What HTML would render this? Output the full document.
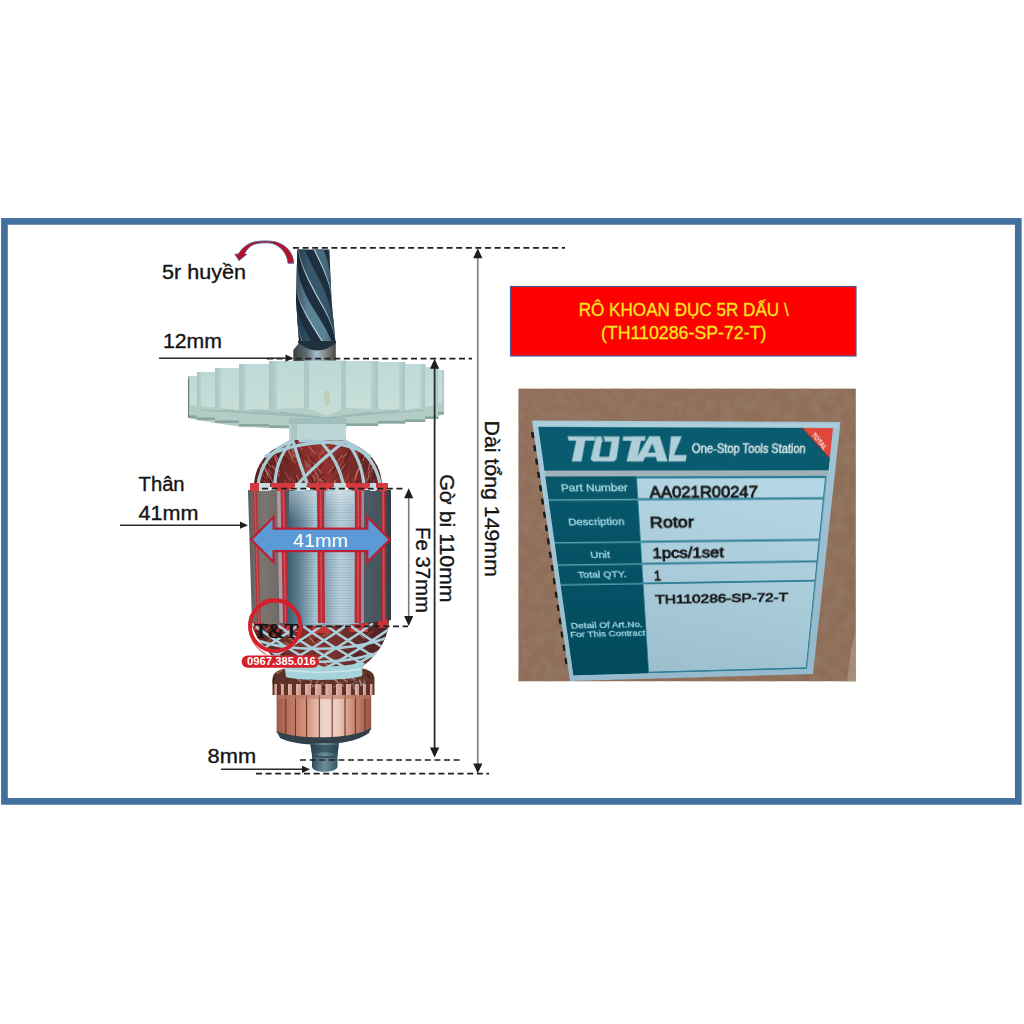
<!DOCTYPE html>
<html><head><meta charset="utf-8">
<style>
html,body{margin:0;padding:0;background:#fff;}
body{width:1024px;height:1024px;position:relative;overflow:hidden;font-family:"Liberation Sans",sans-serif;}
svg{position:absolute;left:0;top:0;font-family:"Liberation Sans",sans-serif;}
#label{position:absolute;left:0;top:0;width:300px;height:260px;transform-origin:0 0;
 transform:matrix3d(1.1441754,0.063162239,0,0.00013782521,0.74734288,1.7201858,0,0.0010547176,0,0,1,0,532,420.5,0,1);}
</style></head>
<body>
<svg width="1024" height="1024" viewBox="0 0 1024 1024">
<defs>
 <linearGradient id="card" x1="0" y1="0" x2="1" y2="1"><stop offset="0" stop-color="#916f5a"/><stop offset="1" stop-color="#8e6d58"/></linearGradient>
 <linearGradient id="collar" x1="0" x2="1"><stop offset="0" stop-color="#3c403f"/><stop offset="0.3" stop-color="#5d6a70"/><stop offset="0.55" stop-color="#a4bfcc"/><stop offset="0.8" stop-color="#7d7f7c"/><stop offset="1" stop-color="#4a4844"/></linearGradient>
 <linearGradient id="gearG" x1="0" x2="0" y1="0" y2="1"><stop offset="0" stop-color="#bcd8d6"/><stop offset="0.6" stop-color="#c2dcd6"/><stop offset="1" stop-color="#c8ded6"/></linearGradient>
 <linearGradient id="dome" x1="0" y1="0" x2="1" y2="0"><stop offset="0" stop-color="#521e1c"/><stop offset="0.55" stop-color="#943430"/><stop offset="1" stop-color="#582020"/></linearGradient>
 <linearGradient id="dome2" x1="0" y1="0" x2="1" y2="0"><stop offset="0" stop-color="#5a2420"/><stop offset="0.5" stop-color="#84362e"/><stop offset="1" stop-color="#4a2024"/></linearGradient>
 <linearGradient id="stackG" gradientUnits="userSpaceOnUse" x1="248" y1="0" x2="391" y2="0">
   <stop offset="0" stop-color="#625a54"/><stop offset="0.035" stop-color="#6e6660"/><stop offset="0.1" stop-color="#7f7771"/><stop offset="0.2" stop-color="#746e68"/>
   <stop offset="0.266" stop-color="#3a5664"/><stop offset="0.364" stop-color="#60869a"/><stop offset="0.476" stop-color="#adcad7"/>
   <stop offset="0.538" stop-color="#8aaabb"/><stop offset="0.643" stop-color="#bcd5e0"/><stop offset="0.748" stop-color="#a6c1cf"/>
   <stop offset="0.811" stop-color="#4e5a64"/><stop offset="0.937" stop-color="#46525a"/><stop offset="1" stop-color="#31373b"/></linearGradient>
 <pattern id="lam" width="4" height="2.6" patternUnits="userSpaceOnUse"><rect width="4" height="1" fill="#55606a"/></pattern>
 <linearGradient id="copper" x1="0" x2="1"><stop offset="0" stop-color="#a05a48"/><stop offset="0.18" stop-color="#c07a66"/><stop offset="0.35" stop-color="#d89c88"/><stop offset="0.5" stop-color="#f0d6cb"/><stop offset="0.65" stop-color="#eccabc"/><stop offset="0.82" stop-color="#c88672"/><stop offset="1" stop-color="#985646"/></linearGradient>
 <linearGradient id="shaft" x1="0" x2="1"><stop offset="0" stop-color="#2c4450"/><stop offset="0.5" stop-color="#6a909c"/><stop offset="1" stop-color="#34505a"/></linearGradient>
 <linearGradient id="tshL" x1="0" x2="1"><stop offset="0" stop-color="#a2c2c0"/><stop offset="1" stop-color="#b4d0ce"/></linearGradient>
 <linearGradient id="tshR" x1="1" x2="0"><stop offset="0" stop-color="#a2c2c0"/><stop offset="1" stop-color="#b4d0ce"/></linearGradient>
 <linearGradient id="drillShade" x1="0" x2="1"><stop offset="0" stop-color="#0e1820" stop-opacity="0.45"/><stop offset="0.3" stop-color="#0e1820" stop-opacity="0"/><stop offset="0.75" stop-color="#0e1820" stop-opacity="0"/><stop offset="1" stop-color="#0e1820" stop-opacity="0.35"/></linearGradient>
 <linearGradient id="gearTint" gradientUnits="userSpaceOnUse" x1="188" x2="443.5" y1="0" y2="0"><stop offset="0" stop-color="#c0dcd8" stop-opacity="0.1"/><stop offset="0.45" stop-color="#ffffff" stop-opacity="0"/><stop offset="1" stop-color="#c8e6e6" stop-opacity="0.12"/></linearGradient>
 <linearGradient id="hiG" x1="0" x2="0" y1="0" y2="1"><stop offset="0" stop-color="#e8f2f6" stop-opacity="0.45"/><stop offset="1" stop-color="#e8f2f6" stop-opacity="0"/></linearGradient>
</defs>
<rect x="4.45" y="221.4" width="1013.85" height="580" fill="none" stroke="#41709f" stroke-width="6.7"/>
<rect x="510.5" y="286.5" width="345.5" height="69.5" fill="#ff0000" stroke="#4d5a96" stroke-width="1.2"/>
<text x="683.7" y="316.4" text-anchor="middle" font-size="17.5" fill="#f5e51c" stroke="#f5e51c" stroke-width="0.3" textLength="210" lengthAdjust="spacingAndGlyphs">RÔ KHOAN ĐỤC 5R DẤU \</text>
<text x="683.7" y="339.2" text-anchor="middle" font-size="17.5" fill="#f5e51c" stroke="#f5e51c" stroke-width="0.3" textLength="165.5" lengthAdjust="spacingAndGlyphs">(TH110286-SP-72-T)</text>
<rect x="518.5" y="388.7" width="337.3" height="292.5" fill="url(#card)"/>
<filter id="noise" x="0" y="0" width="1" height="1"><feTurbulence type="fractalNoise" baseFrequency="0.09" numOctaves="3" seed="3"/><feColorMatrix type="matrix" values="0 0 0 0 0.33  0 0 0 0 0.25  0 0 0 0 0.17  0 0 0 -1.6 1.05"/></filter>
<rect x="518.5" y="388.7" width="337.3" height="292.5" filter="url(#noise)" opacity="0.5"/>
<path d="M851 650 L855.8 630 L855.8 681.2 L847 681.2 Z" fill="#b09a84" opacity="0.7"/>
<line x1="532.5" y1="432.0" x2="533.4" y2="438.0" stroke="#1c1c1c" stroke-width="3"/>
<line x1="534.5" y1="445.3" x2="535.4" y2="451.3" stroke="#1c1c1c" stroke-width="3"/>
<line x1="536.4" y1="458.6" x2="537.3" y2="464.6" stroke="#1c1c1c" stroke-width="3"/>
<line x1="538.4" y1="471.9" x2="539.3" y2="477.9" stroke="#1c1c1c" stroke-width="3"/>
<line x1="540.3" y1="485.2" x2="541.2" y2="491.2" stroke="#1c1c1c" stroke-width="3"/>
<line x1="542.3" y1="498.5" x2="543.2" y2="504.5" stroke="#1c1c1c" stroke-width="3"/>
<line x1="544.3" y1="511.8" x2="545.2" y2="517.8" stroke="#1c1c1c" stroke-width="3"/>
<line x1="546.2" y1="525.1" x2="547.1" y2="531.1" stroke="#1c1c1c" stroke-width="3"/>
<line x1="548.2" y1="538.4" x2="549.1" y2="544.4" stroke="#1c1c1c" stroke-width="3"/>
<line x1="550.2" y1="551.7" x2="551.1" y2="557.7" stroke="#1c1c1c" stroke-width="3"/>
<line x1="552.1" y1="565.0" x2="553.0" y2="571.0" stroke="#1c1c1c" stroke-width="3"/>
<line x1="554.1" y1="578.3" x2="555.0" y2="584.3" stroke="#1c1c1c" stroke-width="3"/>
<line x1="556.0" y1="591.6" x2="556.9" y2="597.6" stroke="#1c1c1c" stroke-width="3"/>
<line x1="558.0" y1="604.9" x2="558.9" y2="610.9" stroke="#1c1c1c" stroke-width="3"/>
<line x1="560.0" y1="618.2" x2="560.9" y2="624.2" stroke="#1c1c1c" stroke-width="3"/>
<line x1="561.9" y1="631.5" x2="562.8" y2="637.5" stroke="#1c1c1c" stroke-width="3"/>
<line x1="563.9" y1="644.8" x2="564.8" y2="650.8" stroke="#1c1c1c" stroke-width="3"/>
<line x1="565.9" y1="658.1" x2="566.8" y2="664.1" stroke="#1c1c1c" stroke-width="3"/>
<g font-size="20" fill="#141414" stroke="#141414" stroke-width="0.35">
<text x="162" y="278.8" textLength="84" lengthAdjust="spacingAndGlyphs">5r huyền</text>
<text x="163" y="348" textLength="59" lengthAdjust="spacingAndGlyphs">12mm</text>
<text x="138.6" y="491" textLength="46" lengthAdjust="spacingAndGlyphs">Thân</text>
<text x="138.6" y="519.8" textLength="60" lengthAdjust="spacingAndGlyphs">41mm</text>
<text x="207.6" y="763" textLength="48.5" lengthAdjust="spacingAndGlyphs">8mm</text>
<text transform="translate(439.8 474.3) rotate(90)" textLength="128.3" lengthAdjust="spacingAndGlyphs">Gờ bi 110mm</text>
<text transform="translate(416 527) rotate(90)" textLength="86" lengthAdjust="spacingAndGlyphs">Fe 37mm</text>
<text transform="translate(484.6 420.5) rotate(90)" textLength="156.5" lengthAdjust="spacingAndGlyphs">Dài tổng 149mm</text>
</g>
<polygon points="297.3,249.5 297.3,251.0 297.2,252.5 297.2,254.0 297.1,255.5 297.1,257.0 297.1,258.5 297.0,260.0 297.0,261.5 297.0,263.0 296.9,264.5 296.9,266.0 296.8,267.5 296.8,269.0 296.8,270.5 296.7,272.0 296.7,273.5 296.6,275.0 296.6,276.5 296.6,278.0 296.5,279.5 296.5,281.0 296.5,282.5 296.4,284.0 296.4,285.5 296.3,287.0 296.3,288.5 296.3,290.0 296.2,291.5 296.2,293.0 296.1,294.5 296.1,296.0 296.1,297.5 296.0,299.0 296.0,300.5 296.1,302.0 296.2,303.5 296.3,305.0 296.5,306.5 296.6,308.0 296.7,309.5 296.8,311.0 296.9,312.5 297.0,314.0 297.1,315.5 297.2,317.0 297.3,318.5 297.4,320.0 297.5,321.5 297.6,323.0 297.7,324.5 297.8,326.0 297.9,327.5 298.0,329.0 298.1,330.5 298.2,332.0 298.3,333.5 298.4,335.0 298.5,336.5 298.7,338.0 298.8,339.5 298.9,341.0 299.0,342.5 299.0,343.5 335.5,343.5 335.5,342.5 335.3,341.0 335.2,339.5 335.0,338.0 334.9,336.5 334.8,335.0 334.6,333.5 334.5,332.0 334.3,330.5 334.2,329.0 334.1,327.5 333.9,326.0 333.8,324.5 333.6,323.0 333.5,321.5 333.4,320.0 333.2,318.5 333.1,317.0 332.9,315.5 332.8,314.0 332.7,312.5 332.5,311.0 332.4,309.5 332.2,308.0 332.1,306.5 332.0,305.0 331.8,303.5 331.7,302.0 331.5,300.5 331.5,299.0 331.4,297.5 331.3,296.0 331.3,294.5 331.2,293.0 331.1,291.5 331.1,290.0 331.0,288.5 330.9,287.0 330.9,285.5 330.8,284.0 330.7,282.5 330.7,281.0 330.6,279.5 330.5,278.0 330.5,276.5 330.4,275.0 330.3,273.5 330.3,272.0 330.2,270.5 330.1,269.0 330.1,267.5 330.0,266.0 330.0,264.5 329.9,263.0 329.8,261.5 329.8,260.0 329.7,258.5 329.6,257.0 329.6,255.5 329.5,254.0 329.4,252.5 329.4,251.0 329.3,249.5" fill="#1e3040"/>
<polygon points="313.3,249.5 314.0,251.0 314.8,252.5 315.5,254.0 316.2,255.5 317.0,257.0 317.7,258.5 318.5,260.0 319.2,261.5 319.9,263.0 320.6,264.5 321.3,266.0 322.0,267.5 322.7,269.0 323.3,270.5 324.0,272.0 324.6,273.5 325.2,275.0 325.8,276.5 326.3,278.0 326.9,279.5 327.4,281.0 327.9,282.5 328.4,284.0 328.8,285.5 329.2,287.0 329.6,288.5 330.0,290.0 330.3,291.5 330.6,293.0 330.8,294.5 331.0,296.0 331.2,297.5 331.4,299.0 331.5,300.5 331.5,300.5 331.5,299.0 331.4,297.5 331.3,296.0 331.3,294.5 331.2,293.0 331.1,291.5 331.1,290.0 331.0,288.5 330.9,287.0 330.9,285.5 330.8,284.0 330.7,282.5 330.7,281.0 330.6,279.5 330.5,278.0 330.4,276.5 330.3,275.0 330.1,273.5 329.9,272.0 329.7,270.5 329.4,269.0 329.1,267.5 328.8,266.0 328.4,264.5 328.1,263.0 327.6,261.5 327.2,260.0 326.7,258.5 326.3,257.0 325.7,255.5 325.2,254.0 324.7,252.5 324.1,251.0 323.5,249.5" fill="#47697d" opacity="1"/>
<polygon points="313.6,249.5 314.4,251.0 315.1,252.5 315.8,254.0 316.6,255.5 317.3,257.0 318.0,258.5 318.8,260.0 319.5,261.5 320.2,263.0 320.9,264.5 321.6,266.0 322.3,267.5 322.9,269.0 323.6,270.5 324.2,272.0 324.8,273.5 325.4,275.0 326.0,276.5 326.6,278.0 327.1,279.5 327.6,281.0 328.1,282.5 328.5,284.0 329.0,285.5 329.4,287.0 329.7,288.5 330.1,290.0 330.4,291.5 330.7,293.0 330.9,294.5 331.1,296.0 331.3,297.5 331.4,299.0 331.5,300.5 331.5,300.5 331.5,299.0 331.4,297.5 331.3,296.0 331.1,294.5 330.9,293.0 330.7,291.5 330.4,290.0 330.2,288.5 329.8,287.0 329.5,285.5 329.1,284.0 328.7,282.5 328.3,281.0 327.8,279.5 327.3,278.0 326.8,276.5 326.2,275.0 325.7,273.5 325.1,272.0 324.5,270.5 323.9,269.0 323.2,267.5 322.6,266.0 321.9,264.5 321.2,263.0 320.5,261.5 319.8,260.0 319.1,258.5 318.4,257.0 317.7,255.5 316.9,254.0 316.2,252.5 315.5,251.0 314.7,249.5" fill="#cfe0e8" opacity="0.9"/>
<polygon points="298.1,249.5 298.3,251.0 298.5,252.5 298.8,254.0 299.1,255.5 299.4,257.0 299.8,258.5 300.2,260.0 300.6,261.5 301.0,263.0 301.5,264.5 302.0,266.0 302.5,267.5 303.1,269.0 303.7,270.5 304.3,272.0 304.9,273.5 305.5,275.0 306.2,276.5 306.9,278.0 307.6,279.5 308.3,281.0 309.0,282.5 309.8,284.0 310.5,285.5 311.3,287.0 312.1,288.5 312.9,290.0 313.7,291.5 314.5,293.0 315.3,294.5 316.1,296.0 316.9,297.5 317.7,299.0 318.5,300.5 319.4,302.0 320.3,303.5 321.2,305.0 322.0,306.5 322.9,308.0 323.7,309.5 324.5,311.0 325.3,312.5 326.1,314.0 326.8,315.5 327.5,317.0 328.2,318.5 328.9,320.0 329.6,321.5 330.2,323.0 330.8,324.5 331.4,326.0 331.9,327.5 332.4,329.0 332.9,330.5 333.3,332.0 333.7,333.5 334.1,335.0 334.4,336.5 334.7,338.0 335.0,339.5 335.2,341.0 335.4,342.5 335.5,343.5 335.5,343.5 335.5,342.5 335.3,341.0 335.2,339.5 335.0,338.0 334.9,336.5 334.8,335.0 334.6,333.5 334.5,332.0 334.3,330.5 334.2,329.0 334.1,327.5 333.9,326.0 333.8,324.5 333.6,323.0 333.5,321.5 333.4,320.0 333.2,318.5 333.0,317.0 332.7,315.5 332.4,314.0 332.1,312.5 331.7,311.0 331.4,309.5 330.9,308.0 330.5,306.5 330.0,305.0 329.5,303.5 328.9,302.0 328.3,300.5 327.8,299.0 327.2,297.5 326.7,296.0 326.1,294.5 325.4,293.0 324.8,291.5 324.1,290.0 323.5,288.5 322.8,287.0 322.1,285.5 321.3,284.0 320.6,282.5 319.9,281.0 319.1,279.5 318.4,278.0 317.6,276.5 316.8,275.0 316.1,273.5 315.3,272.0 314.5,270.5 313.8,269.0 313.0,267.5 312.3,266.0 311.5,264.5 310.8,263.0 310.0,261.5 309.3,260.0 308.6,258.5 307.9,257.0 307.3,255.5 306.6,254.0 306.0,252.5 305.3,251.0 304.7,249.5" fill="#37586c" opacity="1"/>
<polygon points="298.2,249.5 298.4,251.0 298.6,252.5 298.9,254.0 299.2,255.5 299.6,257.0 299.9,258.5 300.3,260.0 300.8,261.5 301.2,263.0 301.7,264.5 302.2,266.0 302.8,267.5 303.3,269.0 303.9,270.5 304.5,272.0 305.2,273.5 305.8,275.0 306.5,276.5 307.2,278.0 307.9,279.5 308.6,281.0 309.4,282.5 310.1,284.0 310.9,285.5 311.7,287.0 312.4,288.5 313.2,290.0 314.0,291.5 314.8,293.0 315.6,294.5 316.4,296.0 317.2,297.5 318.0,299.0 318.9,300.5 319.7,302.0 320.6,303.5 321.5,305.0 322.3,306.5 323.2,308.0 324.0,309.5 324.8,311.0 325.6,312.5 326.3,314.0 327.1,315.5 327.8,317.0 328.5,318.5 329.2,320.0 329.8,321.5 330.4,323.0 331.0,324.5 331.5,326.0 332.1,327.5 332.6,329.0 333.0,330.5 333.4,332.0 333.8,333.5 334.2,335.0 334.5,336.5 334.8,338.0 335.1,339.5 335.3,341.0 335.4,342.5 335.5,342.5 335.3,341.0 335.2,339.5 335.0,338.0 334.7,336.5 334.5,335.0 334.2,333.5 333.8,332.0 333.5,330.5 333.0,329.0 332.6,327.5 332.1,326.0 331.6,324.5 331.1,323.0 330.5,321.5 329.9,320.0 329.3,318.5 328.7,317.0 328.0,315.5 327.3,314.0 326.5,312.5 325.8,311.0 325.0,309.5 324.2,308.0 323.4,306.5 322.6,305.0 321.8,303.5 320.9,302.0 320.0,300.5 319.2,299.0 318.4,297.5 317.6,296.0 316.8,294.5 316.0,293.0 315.2,291.5 314.4,290.0 313.7,288.5 312.9,287.0 312.1,285.5 311.3,284.0 310.5,282.5 309.8,281.0 309.0,279.5 308.3,278.0 307.6,276.5 306.9,275.0 306.2,273.5 305.6,272.0 304.9,270.5 304.3,269.0 303.7,267.5 303.1,266.0 302.6,264.5 302.0,263.0 301.5,261.5 301.1,260.0 300.6,258.5 300.2,257.0 299.8,255.5 299.5,254.0 299.1,252.5 298.9,251.0 298.6,249.5" fill="#cfe0e8" opacity="0.9"/>
<polygon points="297.1,258.5 297.0,260.0 297.0,261.5 297.0,263.0 296.9,264.5 296.9,266.0 296.8,267.5 296.8,269.0 296.8,270.5 296.7,272.0 296.7,273.5 296.6,275.0 296.6,276.5 296.6,278.0 296.5,279.5 296.5,281.0 296.5,282.5 296.5,284.0 296.5,285.5 296.6,287.0 296.7,288.5 296.9,290.0 297.1,291.5 297.3,293.0 297.6,294.5 297.8,296.0 298.2,297.5 298.5,299.0 299.0,300.5 299.5,302.0 300.1,303.5 300.7,305.0 301.4,306.5 302.1,308.0 302.8,309.5 303.5,311.0 304.2,312.5 305.0,314.0 305.8,315.5 306.6,317.0 307.5,318.5 308.3,320.0 309.2,321.5 310.1,323.0 310.9,324.5 311.8,326.0 312.8,327.5 313.7,329.0 314.6,330.5 315.5,332.0 316.5,333.5 317.4,335.0 318.4,336.5 319.3,338.0 320.2,339.5 321.1,341.0 322.1,342.5 322.7,343.5 332.6,343.5 332.2,342.5 331.5,341.0 330.9,339.5 330.2,338.0 329.5,336.5 328.8,335.0 328.0,333.5 327.3,332.0 326.5,330.5 325.7,329.0 324.8,327.5 324.0,326.0 323.1,324.5 322.3,323.0 321.4,321.5 320.5,320.0 319.6,318.5 318.7,317.0 317.7,315.5 316.8,314.0 315.9,312.5 315.0,311.0 314.0,309.5 313.1,308.0 312.2,306.5 311.3,305.0 310.4,303.5 309.5,302.0 308.6,300.5 307.8,299.0 307.1,297.5 306.4,296.0 305.7,294.5 305.0,293.0 304.3,291.5 303.7,290.0 303.1,288.5 302.5,287.0 301.9,285.5 301.4,284.0 300.9,282.5 300.4,281.0 300.0,279.5 299.5,278.0 299.2,276.5 298.8,275.0 298.5,273.5 298.2,272.0 297.9,270.5 297.7,269.0 297.5,267.5 297.4,266.0 297.2,264.5 297.1,263.0 297.1,261.5 297.1,260.0 297.1,258.5" fill="#5c8296" opacity="1"/>
<polygon points="296.6,278.0 296.5,279.5 296.5,281.0 296.5,282.5 296.5,284.0 296.6,285.5 296.7,287.0 296.8,288.5 297.0,290.0 297.2,291.5 297.4,293.0 297.7,294.5 298.0,296.0 298.3,297.5 298.7,299.0 299.2,300.5 299.7,302.0 300.4,303.5 301.0,305.0 301.6,306.5 302.3,308.0 303.0,309.5 303.8,311.0 304.5,312.5 305.3,314.0 306.1,315.5 306.9,317.0 307.8,318.5 308.6,320.0 309.5,321.5 310.4,323.0 311.3,324.5 312.2,326.0 313.1,327.5 314.0,329.0 315.0,330.5 315.9,332.0 316.8,333.5 317.8,335.0 318.7,336.5 319.6,338.0 320.6,339.5 321.5,341.0 322.4,342.5 323.0,343.5 324.2,343.5 323.6,342.5 322.7,341.0 321.8,339.5 320.9,338.0 320.0,336.5 319.0,335.0 318.1,333.5 317.2,332.0 316.2,330.5 315.3,329.0 314.4,327.5 313.4,326.0 312.5,324.5 311.6,323.0 310.7,321.5 309.8,320.0 308.9,318.5 308.1,317.0 307.2,315.5 306.4,314.0 305.6,312.5 304.8,311.0 304.0,309.5 303.3,308.0 302.6,306.5 301.9,305.0 301.2,303.5 300.5,302.0 299.9,300.5 299.4,299.0 299.0,297.5 298.6,296.0 298.2,294.5 297.9,293.0 297.6,291.5 297.4,290.0 297.1,288.5 297.0,287.0 296.8,285.5 296.7,284.0 296.6,282.5 296.6,281.0 296.5,279.5 296.6,278.0" fill="#cfe0e8" opacity="0.9"/>
<polygon points="296.0,300.5 296.1,302.0 296.2,303.5 296.3,305.0 296.5,306.5 296.6,308.0 296.7,309.5 296.8,311.0 296.9,312.5 297.0,314.0 297.1,315.5 297.2,317.0 297.3,318.5 297.4,320.0 297.5,321.5 297.6,323.0 297.7,324.5 297.9,326.0 298.1,327.5 298.3,329.0 298.6,330.5 298.9,332.0 299.2,333.5 299.6,335.0 300.0,336.5 300.5,338.0 300.9,339.5 301.4,341.0 302.0,342.5 302.4,343.5 312.5,343.5 311.9,342.5 311.0,341.0 310.1,339.5 309.2,338.0 308.4,336.5 307.6,335.0 306.8,333.5 306.0,332.0 305.2,330.5 304.5,329.0 303.7,327.5 303.0,326.0 302.4,324.5 301.7,323.0 301.1,321.5 300.6,320.0 300.0,318.5 299.5,317.0 299.0,315.5 298.5,314.0 298.1,312.5 297.7,311.0 297.4,309.5 297.1,308.0 296.8,306.5 296.6,305.0 296.3,303.5 296.2,302.0 296.0,300.5" fill="#305062" opacity="1"/>
<polygon points="297.4,320.0 297.5,321.5 297.6,323.0 297.7,324.5 297.9,326.0 298.1,327.5 298.4,329.0 298.7,330.5 299.0,332.0 299.3,333.5 299.7,335.0 300.2,336.5 300.6,338.0 301.1,339.5 301.6,341.0 302.2,342.5 302.6,343.5 303.4,343.5 302.9,342.5 302.3,341.0 301.8,339.5 301.2,338.0 300.7,336.5 300.2,335.0 299.8,333.5 299.4,332.0 299.0,330.5 298.7,329.0 298.4,327.5 298.1,326.0 297.9,324.5 297.7,323.0 297.5,321.5 297.4,320.0" fill="#cfe0e8" opacity="0.9"/>
<polygon points="328.5,249.5 328.8,251.0 329.0,252.5 329.2,254.0 329.4,255.5 329.6,257.0 329.7,258.5 299.0,342.5 299.0,343.5 299.1,343.5 299.0,342.5 329.7,258.5 329.6,257.0 329.6,255.5 329.5,254.0 329.4,252.5 329.4,251.0 329.3,249.5" fill="#4e7084" opacity="1"/>
<polygon points="328.6,249.5 328.9,251.0 329.1,252.5 329.3,254.0 329.5,255.5 329.6,257.0 329.7,258.5 329.7,258.5 329.6,257.0 329.5,255.5 329.4,254.0 329.3,252.5 329.1,251.0 328.9,249.5" fill="#cfe0e8" opacity="0.9"/>
<polygon points="297.3,249.5 297.3,251.0 297.2,252.5 297.2,254.0 297.1,255.5 297.1,257.0 297.1,258.5 297.0,260.0 297.0,261.5 297.0,263.0 296.9,264.5 296.9,266.0 296.8,267.5 296.8,269.0 296.8,270.5 296.7,272.0 296.7,273.5 296.6,275.0 296.6,276.5 296.6,278.0 296.5,279.5 296.5,281.0 296.5,282.5 296.4,284.0 296.4,285.5 296.3,287.0 296.3,288.5 296.3,290.0 296.2,291.5 296.2,293.0 296.1,294.5 296.1,296.0 296.1,297.5 296.0,299.0 296.0,300.5 296.1,302.0 296.2,303.5 296.3,305.0 296.5,306.5 296.6,308.0 296.7,309.5 296.8,311.0 296.9,312.5 297.0,314.0 297.1,315.5 297.2,317.0 297.3,318.5 297.4,320.0 297.5,321.5 297.6,323.0 297.7,324.5 297.8,326.0 297.9,327.5 298.0,329.0 298.1,330.5 298.2,332.0 298.3,333.5 298.4,335.0 298.5,336.5 298.7,338.0 298.8,339.5 298.9,341.0 299.0,342.5 299.0,343.5 335.5,343.5 335.5,342.5 335.3,341.0 335.2,339.5 335.0,338.0 334.9,336.5 334.8,335.0 334.6,333.5 334.5,332.0 334.3,330.5 334.2,329.0 334.1,327.5 333.9,326.0 333.8,324.5 333.6,323.0 333.5,321.5 333.4,320.0 333.2,318.5 333.1,317.0 332.9,315.5 332.8,314.0 332.7,312.5 332.5,311.0 332.4,309.5 332.2,308.0 332.1,306.5 332.0,305.0 331.8,303.5 331.7,302.0 331.5,300.5 331.5,299.0 331.4,297.5 331.3,296.0 331.3,294.5 331.2,293.0 331.1,291.5 331.1,290.0 331.0,288.5 330.9,287.0 330.9,285.5 330.8,284.0 330.7,282.5 330.7,281.0 330.6,279.5 330.5,278.0 330.5,276.5 330.4,275.0 330.3,273.5 330.3,272.0 330.2,270.5 330.1,269.0 330.1,267.5 330.0,266.0 330.0,264.5 329.9,263.0 329.8,261.5 329.8,260.0 329.7,258.5 329.6,257.0 329.6,255.5 329.5,254.0 329.4,252.5 329.4,251.0 329.3,249.5" fill="url(#drillShade)"/>
<path d="M293.3 361 L293.3 350 L299 343 L335.8 343 L335.8 361 Z" fill="url(#collar)"/>
<path d="M298 343 Q 318 358, 336 343 L 336 341 L 298 341 Z" fill="#20323e"/>
<path d="M238.5 254 C 242 248, 248 243, 256 241.6 C 262 240.6, 270 240.6, 276 242 C 286 245, 293 252, 293.8 263.2 L 287.9 263.2 C 287.5 254, 281 246, 272 243.3 C 266 242.5, 260 242.8, 255 244 C 250 245.5, 247 249, 244.5 254 L 246.6 254.4 L 239 260.6 L 234.9 254.2 Z" fill="#b8102a" stroke="#3f5f98" stroke-width="0.8" stroke-linejoin="round"/>
<rect x="188" y="376" width="9.6" height="42" fill="#b0cecc"/>
<rect x="197" y="372" width="18.6" height="48" fill="#b0cecc"/>
<rect x="215" y="368" width="24.6" height="55" fill="#b0cecc"/>
<rect x="239" y="364" width="30.6" height="62.5" fill="#b0cecc"/>
<rect x="269" y="361" width="35.6" height="67" fill="#b0cecc"/>
<rect x="304" y="360.5" width="42.6" height="68.5" fill="#b0cecc"/>
<rect x="346" y="361" width="32.6" height="65" fill="#b0cecc"/>
<rect x="378" y="362" width="27.6" height="61.5" fill="#b0cecc"/>
<rect x="405" y="364" width="20.6" height="58" fill="#b0cecc"/>
<rect x="425" y="367" width="13.6" height="52" fill="#b0cecc"/>
<rect x="438" y="370" width="6.1" height="44.5" fill="#b0cecc"/>
<rect x="190.0" y="376" width="7.0" height="30" fill="url(#gearG)"/>
<rect x="188" y="376" width="2.0" height="42" fill="url(#tshL)"/>
<rect x="201.0" y="372" width="14.0" height="36" fill="url(#gearG)"/>
<rect x="197" y="372" width="4.0" height="48" fill="url(#tshL)"/>
<rect x="220.3" y="368" width="18.7" height="43" fill="url(#gearG)"/>
<rect x="215" y="368" width="5.3" height="55" fill="url(#tshL)"/>
<rect x="245.6" y="364" width="23.4" height="50.5" fill="url(#gearG)"/>
<rect x="239" y="364" width="6.6" height="62.5" fill="url(#tshL)"/>
<rect x="276.7" y="361" width="27.3" height="55" fill="url(#gearG)"/>
<rect x="269" y="361" width="7.7" height="67" fill="url(#tshL)"/>
<rect x="346" y="361" width="25.0" height="53" fill="url(#gearG)"/>
<rect x="371.0" y="361" width="7.0" height="65" fill="url(#tshR)"/>
<rect x="378" y="362" width="21.1" height="49.5" fill="url(#gearG)"/>
<rect x="399.1" y="362" width="5.9" height="61.5" fill="url(#tshR)"/>
<rect x="405" y="364" width="15.6" height="46" fill="url(#gearG)"/>
<rect x="420.6" y="364" width="4.4" height="58" fill="url(#tshR)"/>
<rect x="425" y="367" width="10.1" height="40" fill="url(#gearG)"/>
<rect x="435.1" y="367" width="2.9" height="52" fill="url(#tshR)"/>
<rect x="438" y="370" width="4.3" height="32.5" fill="url(#gearG)"/>
<rect x="442.3" y="370" width="1.2" height="44.5" fill="url(#tshR)"/>
<rect x="188" y="376" width="9.6" height="42" fill="url(#gearTint)"/>
<rect x="197" y="372" width="18.6" height="48" fill="url(#gearTint)"/>
<rect x="215" y="368" width="24.6" height="55" fill="url(#gearTint)"/>
<rect x="239" y="364" width="30.6" height="62.5" fill="url(#gearTint)"/>
<rect x="269" y="361" width="35.6" height="67" fill="url(#gearTint)"/>
<rect x="304" y="360.5" width="42.6" height="68.5" fill="url(#gearTint)"/>
<rect x="346" y="361" width="32.6" height="65" fill="url(#gearTint)"/>
<rect x="378" y="362" width="27.6" height="61.5" fill="url(#gearTint)"/>
<rect x="405" y="364" width="20.6" height="58" fill="url(#gearTint)"/>
<rect x="425" y="367" width="13.6" height="52" fill="url(#gearTint)"/>
<rect x="438" y="370" width="6.1" height="44.5" fill="url(#gearTint)"/>
<path d="M304 361 L346 361 L346 407 L327.5 416 L304 407 Z" fill="url(#gearG)"/>
<path d="M304 361 L309 361 L309 408 L304 407 Z" fill="#a8c6c4" opacity="0.8"/>
<path d="M341 361 L346 361 L346 407 L341 409 Z" fill="#a8c6c4" opacity="0.8"/>
<ellipse cx="327" cy="398" rx="3" ry="8" fill="#bcccb0" opacity="0.8"/>
<path d="M188 405 L239 410 L304 408 L327.5 416 L346 408 L405 410 L443.5 404 L443.5 414.5 L425 419 L405 422 L378 423.5 L346 426 L304 429 L269 428 L239 426.5 L215 423 L197 420 L188 418 Z" fill="#b2ccc6"/>
<g stroke="#9cb8b2" stroke-width="1" fill="none">
<line x1="200" y1="410" x2="327.5" y2="418"/>
<line x1="222" y1="410" x2="327.5" y2="418"/>
<line x1="250" y1="410" x2="327.5" y2="418"/>
<line x1="280" y1="412" x2="327.5" y2="418"/>
<line x1="372" y1="412" x2="327.5" y2="418"/>
<line x1="400" y1="410" x2="327.5" y2="418"/>
<line x1="425" y1="410" x2="327.5" y2="418"/>
</g>
<rect x="188" y="415.4" width="9" height="2.6" fill="#86a29c" opacity="0.9"/>
<rect x="197" y="417.4" width="18" height="2.6" fill="#86a29c" opacity="0.9"/>
<rect x="215" y="420.4" width="24" height="2.6" fill="#86a29c" opacity="0.9"/>
<rect x="239" y="423.9" width="30" height="2.6" fill="#86a29c" opacity="0.9"/>
<rect x="269" y="425.4" width="35" height="2.6" fill="#86a29c" opacity="0.9"/>
<rect x="304" y="426.4" width="42" height="2.6" fill="#86a29c" opacity="0.9"/>
<rect x="346" y="423.4" width="32" height="2.6" fill="#86a29c" opacity="0.9"/>
<rect x="378" y="420.9" width="27" height="2.6" fill="#86a29c" opacity="0.9"/>
<rect x="405" y="419.4" width="20" height="2.6" fill="#86a29c" opacity="0.9"/>
<rect x="425" y="416.4" width="13" height="2.6" fill="#86a29c" opacity="0.9"/>
<rect x="438" y="411.9" width="5.5" height="2.6" fill="#86a29c" opacity="0.9"/>
<line x1="188.6" y1="378" x2="188.6" y2="417" stroke="#4a5a5a" stroke-width="1" opacity="0.7"/>
<rect x="289" y="418" width="57" height="23" fill="#bcd6d6"/>
<rect x="289" y="418" width="57" height="6" fill="#a0bebe"/>
<rect x="291" y="424" width="6" height="16" fill="#a4bebe" opacity="0.7"/>
<clipPath id="domeClip"><path d="M254 487 C 254 470, 262 455, 278 447 C 284 444, 288 441, 292 440 L 344 440 C 350 442, 356 445, 362 449 C 376 458, 382 472, 382 487 Z"/></clipPath>
<path d="M254 487 C 254 470, 262 455, 278 447 C 284 444, 288 441, 292 440 L 344 440 C 350 442, 356 445, 362 449 C 376 458, 382 472, 382 487 Z" fill="url(#dome)"/>
<g clip-path="url(#domeClip)">
<line x1="296.2" y1="450.3" x2="300.2" y2="455.6" stroke="#a84844" stroke-width="0.9" opacity="0.8"/>
<line x1="267.7" y1="468.5" x2="273.4" y2="473.6" stroke="#b85a58" stroke-width="0.9" opacity="0.8"/>
<line x1="309.8" y1="446.9" x2="312.2" y2="456.0" stroke="#a84844" stroke-width="0.9" opacity="0.8"/>
<line x1="271.4" y1="453.4" x2="279.5" y2="464.3" stroke="#a84844" stroke-width="0.9" opacity="0.8"/>
<line x1="328.6" y1="446.1" x2="321.5" y2="453.8" stroke="#d88a80" stroke-width="0.9" opacity="0.8"/>
<line x1="291.9" y1="450.1" x2="294.3" y2="458.2" stroke="#d88a80" stroke-width="0.9" opacity="0.8"/>
<line x1="268.8" y1="468.0" x2="271.0" y2="474.4" stroke="#b85a58" stroke-width="0.9" opacity="0.8"/>
<line x1="326.0" y1="470.0" x2="320.6" y2="478.7" stroke="#7a2828" stroke-width="0.9" opacity="0.8"/>
<line x1="313.7" y1="482.8" x2="317.2" y2="490.0" stroke="#d88a80" stroke-width="0.9" opacity="0.8"/>
<line x1="342.7" y1="454.3" x2="337.8" y2="463.2" stroke="#7a2828" stroke-width="0.9" opacity="0.8"/>
<line x1="346.5" y1="456.1" x2="345.0" y2="462.9" stroke="#3a1618" stroke-width="0.9" opacity="0.8"/>
<line x1="276.5" y1="458.4" x2="283.5" y2="464.5" stroke="#b85a58" stroke-width="0.9" opacity="0.8"/>
<line x1="350.8" y1="468.1" x2="348.4" y2="476.2" stroke="#7a2828" stroke-width="0.9" opacity="0.8"/>
<line x1="329.7" y1="468.4" x2="322.7" y2="479.0" stroke="#7a2828" stroke-width="0.9" opacity="0.8"/>
<line x1="314.8" y1="471.9" x2="317.6" y2="483.2" stroke="#a84844" stroke-width="0.9" opacity="0.8"/>
<line x1="379.1" y1="478.5" x2="373.3" y2="485.5" stroke="#7a2828" stroke-width="0.9" opacity="0.8"/>
<line x1="258.8" y1="463.4" x2="261.0" y2="470.0" stroke="#b85a58" stroke-width="0.9" opacity="0.8"/>
<line x1="283.1" y1="456.1" x2="289.1" y2="463.0" stroke="#3a1618" stroke-width="0.9" opacity="0.8"/>
<line x1="266.0" y1="462.9" x2="273.2" y2="473.8" stroke="#3a1618" stroke-width="0.9" opacity="0.8"/>
<line x1="363.1" y1="455.7" x2="358.1" y2="463.0" stroke="#3a1618" stroke-width="0.9" opacity="0.8"/>
<line x1="374.8" y1="450.3" x2="369.3" y2="455.9" stroke="#d88a80" stroke-width="0.9" opacity="0.8"/>
<line x1="257.5" y1="478.9" x2="260.2" y2="486.7" stroke="#d88a80" stroke-width="0.9" opacity="0.8"/>
<line x1="307.9" y1="459.5" x2="315.6" y2="470.8" stroke="#a84844" stroke-width="0.9" opacity="0.8"/>
<line x1="373.8" y1="471.5" x2="370.2" y2="480.5" stroke="#a84844" stroke-width="0.9" opacity="0.8"/>
<line x1="304.7" y1="460.8" x2="307.6" y2="471.4" stroke="#b85a58" stroke-width="0.9" opacity="0.8"/>
<line x1="279.6" y1="485.4" x2="283.0" y2="491.4" stroke="#a84844" stroke-width="0.9" opacity="0.8"/>
<line x1="262.5" y1="444.0" x2="264.6" y2="450.5" stroke="#7a2828" stroke-width="0.9" opacity="0.8"/>
<line x1="332.1" y1="447.0" x2="325.9" y2="453.5" stroke="#7a2828" stroke-width="0.9" opacity="0.8"/>
<line x1="374.5" y1="469.3" x2="370.8" y2="475.1" stroke="#3a1618" stroke-width="0.9" opacity="0.8"/>
<line x1="379.1" y1="463.6" x2="375.6" y2="469.2" stroke="#b85a58" stroke-width="0.9" opacity="0.8"/>
<line x1="349.0" y1="475.1" x2="342.8" y2="484.8" stroke="#a84844" stroke-width="0.9" opacity="0.8"/>
<line x1="258.9" y1="483.9" x2="262.7" y2="490.0" stroke="#a84844" stroke-width="0.9" opacity="0.8"/>
<line x1="369.4" y1="475.8" x2="362.2" y2="484.4" stroke="#b85a58" stroke-width="0.9" opacity="0.8"/>
<line x1="342.3" y1="455.0" x2="337.9" y2="460.8" stroke="#d88a80" stroke-width="0.9" opacity="0.8"/>
<line x1="322.0" y1="476.7" x2="317.2" y2="482.8" stroke="#d88a80" stroke-width="0.9" opacity="0.8"/>
<line x1="356.0" y1="478.4" x2="353.0" y2="485.6" stroke="#a84844" stroke-width="0.9" opacity="0.8"/>
<line x1="317.1" y1="474.7" x2="326.7" y2="482.4" stroke="#3a1618" stroke-width="0.9" opacity="0.8"/>
<line x1="288.1" y1="473.1" x2="295.5" y2="479.3" stroke="#7a2828" stroke-width="0.9" opacity="0.8"/>
<line x1="374.4" y1="459.3" x2="369.1" y2="465.1" stroke="#d88a80" stroke-width="0.9" opacity="0.8"/>
<line x1="297.9" y1="464.3" x2="306.3" y2="471.1" stroke="#b85a58" stroke-width="0.9" opacity="0.8"/>
<line x1="315.5" y1="471.4" x2="320.1" y2="476.3" stroke="#b85a58" stroke-width="0.9" opacity="0.8"/>
<line x1="368.8" y1="476.9" x2="365.2" y2="486.0" stroke="#d88a80" stroke-width="0.9" opacity="0.8"/>
<line x1="309.8" y1="470.7" x2="313.3" y2="483.8" stroke="#3a1618" stroke-width="0.9" opacity="0.8"/>
<line x1="313.4" y1="475.2" x2="315.3" y2="482.2" stroke="#d88a80" stroke-width="0.9" opacity="0.8"/>
<line x1="259.4" y1="468.8" x2="265.1" y2="478.5" stroke="#a84844" stroke-width="0.9" opacity="0.8"/>
<line x1="358.5" y1="485.2" x2="354.7" y2="493.1" stroke="#a84844" stroke-width="0.9" opacity="0.8"/>
<line x1="324.0" y1="444.9" x2="320.0" y2="456.0" stroke="#b85a58" stroke-width="0.9" opacity="0.8"/>
<line x1="321.3" y1="483.2" x2="314.0" y2="493.9" stroke="#d88a80" stroke-width="0.9" opacity="0.8"/>
<line x1="259.5" y1="452.9" x2="265.8" y2="463.3" stroke="#7a2828" stroke-width="0.9" opacity="0.8"/>
<line x1="288.2" y1="461.6" x2="292.0" y2="474.3" stroke="#7a2828" stroke-width="0.9" opacity="0.8"/>
<line x1="367.3" y1="471.8" x2="364.0" y2="481.4" stroke="#a84844" stroke-width="0.9" opacity="0.8"/>
<line x1="272.2" y1="450.4" x2="279.1" y2="461.4" stroke="#d88a80" stroke-width="0.9" opacity="0.8"/>
<line x1="331.5" y1="476.6" x2="326.4" y2="481.6" stroke="#a84844" stroke-width="0.9" opacity="0.8"/>
<line x1="345.9" y1="467.4" x2="339.6" y2="475.3" stroke="#a84844" stroke-width="0.9" opacity="0.8"/>
<line x1="315.8" y1="476.6" x2="320.5" y2="481.0" stroke="#d88a80" stroke-width="0.9" opacity="0.8"/>
<line x1="290.3" y1="476.4" x2="295.9" y2="485.4" stroke="#b85a58" stroke-width="0.9" opacity="0.8"/>
<line x1="311.0" y1="469.7" x2="316.3" y2="478.3" stroke="#7a2828" stroke-width="0.9" opacity="0.8"/>
<line x1="312.1" y1="466.4" x2="319.0" y2="478.0" stroke="#a84844" stroke-width="0.9" opacity="0.8"/>
<line x1="364.7" y1="483.6" x2="357.8" y2="491.5" stroke="#d88a80" stroke-width="0.9" opacity="0.8"/>
<line x1="360.2" y1="449.8" x2="353.2" y2="456.3" stroke="#b85a58" stroke-width="0.9" opacity="0.8"/>
<line x1="339.2" y1="462.0" x2="333.5" y2="468.1" stroke="#b85a58" stroke-width="0.9" opacity="0.8"/>
<line x1="367.2" y1="450.5" x2="362.9" y2="460.9" stroke="#d88a80" stroke-width="0.9" opacity="0.8"/>
<line x1="287.4" y1="449.8" x2="293.4" y2="460.1" stroke="#b85a58" stroke-width="0.9" opacity="0.8"/>
<line x1="305.4" y1="464.5" x2="315.2" y2="472.4" stroke="#d88a80" stroke-width="0.9" opacity="0.8"/>
<line x1="343.6" y1="485.8" x2="338.2" y2="493.4" stroke="#7a2828" stroke-width="0.9" opacity="0.8"/>
<line x1="295.5" y1="474.3" x2="297.7" y2="484.5" stroke="#3a1618" stroke-width="0.9" opacity="0.8"/>
<line x1="343.2" y1="460.1" x2="338.9" y2="467.3" stroke="#b85a58" stroke-width="0.9" opacity="0.8"/>
<line x1="270.0" y1="482.6" x2="274.6" y2="494.8" stroke="#b85a58" stroke-width="0.9" opacity="0.8"/>
<line x1="288.9" y1="445.7" x2="294.5" y2="451.7" stroke="#d88a80" stroke-width="0.9" opacity="0.8"/>
<line x1="357.7" y1="479.7" x2="352.0" y2="492.0" stroke="#3a1618" stroke-width="0.9" opacity="0.8"/>
<line x1="274.5" y1="482.6" x2="281.1" y2="492.2" stroke="#b85a58" stroke-width="0.9" opacity="0.8"/>
<line x1="290.6" y1="477.6" x2="294.8" y2="490.0" stroke="#7a2828" stroke-width="0.9" opacity="0.8"/>
<line x1="372.4" y1="470.6" x2="370.1" y2="476.9" stroke="#d88a80" stroke-width="0.9" opacity="0.8"/>
<line x1="264.3" y1="480.2" x2="268.6" y2="487.8" stroke="#a84844" stroke-width="0.9" opacity="0.8"/>
<line x1="307.8" y1="482.4" x2="311.6" y2="487.6" stroke="#d88a80" stroke-width="0.9" opacity="0.8"/>
<line x1="372.3" y1="484.7" x2="367.4" y2="490.3" stroke="#7a2828" stroke-width="0.9" opacity="0.8"/>
<line x1="334.0" y1="466.3" x2="327.4" y2="473.3" stroke="#d88a80" stroke-width="0.9" opacity="0.8"/>
<line x1="289.5" y1="477.8" x2="294.5" y2="481.7" stroke="#b85a58" stroke-width="0.9" opacity="0.8"/>
<line x1="346.9" y1="467.1" x2="340.1" y2="474.2" stroke="#3a1618" stroke-width="0.9" opacity="0.8"/>
<line x1="269.2" y1="478.4" x2="274.0" y2="487.1" stroke="#3a1618" stroke-width="0.9" opacity="0.8"/>
<line x1="376.3" y1="456.9" x2="371.0" y2="462.7" stroke="#d88a80" stroke-width="0.9" opacity="0.8"/>
<line x1="359.2" y1="473.7" x2="355.1" y2="482.0" stroke="#7a2828" stroke-width="0.9" opacity="0.8"/>
<line x1="377.8" y1="479.2" x2="369.2" y2="486.1" stroke="#7a2828" stroke-width="0.9" opacity="0.8"/>
<line x1="309.4" y1="446.3" x2="315.0" y2="453.4" stroke="#a84844" stroke-width="0.9" opacity="0.8"/>
<line x1="339.1" y1="455.8" x2="333.6" y2="462.1" stroke="#3a1618" stroke-width="0.9" opacity="0.8"/>
<line x1="279.0" y1="455.3" x2="280.8" y2="464.0" stroke="#7a2828" stroke-width="0.9" opacity="0.8"/>
<line x1="376.6" y1="467.0" x2="367.5" y2="477.2" stroke="#7a2828" stroke-width="0.9" opacity="0.8"/>
<line x1="283.0" y1="451.7" x2="285.8" y2="457.7" stroke="#7a2828" stroke-width="0.9" opacity="0.8"/>
<line x1="318.3" y1="452.4" x2="315.2" y2="457.6" stroke="#7a2828" stroke-width="0.9" opacity="0.8"/>
<line x1="357.3" y1="450.0" x2="353.0" y2="458.1" stroke="#7a2828" stroke-width="0.9" opacity="0.8"/>
<line x1="293.7" y1="453.8" x2="299.6" y2="462.2" stroke="#d88a80" stroke-width="0.9" opacity="0.8"/>
<line x1="337.5" y1="474.1" x2="335.0" y2="482.8" stroke="#7a2828" stroke-width="0.9" opacity="0.8"/>
<line x1="345.4" y1="464.8" x2="338.3" y2="473.1" stroke="#d88a80" stroke-width="0.9" opacity="0.8"/>
<line x1="261.4" y1="479.1" x2="269.5" y2="486.6" stroke="#a84844" stroke-width="0.9" opacity="0.8"/>
<line x1="273.3" y1="466.0" x2="279.9" y2="476.8" stroke="#b85a58" stroke-width="0.9" opacity="0.8"/>
<line x1="358.5" y1="468.5" x2="355.4" y2="479.6" stroke="#d88a80" stroke-width="0.9" opacity="0.8"/>
<line x1="266.6" y1="445.8" x2="274.8" y2="456.7" stroke="#3a1618" stroke-width="0.9" opacity="0.8"/>
<line x1="359.6" y1="467.5" x2="354.7" y2="477.3" stroke="#d88a80" stroke-width="0.9" opacity="0.8"/>
<line x1="316.7" y1="444.1" x2="324.9" y2="452.8" stroke="#a84844" stroke-width="0.9" opacity="0.8"/>
<line x1="367.3" y1="447.9" x2="361.3" y2="458.2" stroke="#3a1618" stroke-width="0.9" opacity="0.8"/>
<line x1="287.3" y1="447.1" x2="291.7" y2="458.1" stroke="#d88a80" stroke-width="0.9" opacity="0.8"/>
<line x1="284.6" y1="471.3" x2="291.0" y2="482.4" stroke="#b85a58" stroke-width="0.9" opacity="0.8"/>
<line x1="315.4" y1="472.7" x2="322.7" y2="480.8" stroke="#d88a80" stroke-width="0.9" opacity="0.8"/>
<line x1="265.6" y1="450.2" x2="270.0" y2="461.3" stroke="#7a2828" stroke-width="0.9" opacity="0.8"/>
<line x1="333.0" y1="449.6" x2="327.8" y2="458.0" stroke="#b85a58" stroke-width="0.9" opacity="0.8"/>
<line x1="341.8" y1="472.4" x2="335.3" y2="480.2" stroke="#3a1618" stroke-width="0.9" opacity="0.8"/>
<line x1="313.8" y1="476.2" x2="321.9" y2="482.7" stroke="#7a2828" stroke-width="0.9" opacity="0.8"/>
<line x1="377.3" y1="483.3" x2="369.8" y2="489.4" stroke="#a84844" stroke-width="0.9" opacity="0.8"/>
<line x1="376.0" y1="462.9" x2="371.0" y2="468.7" stroke="#d88a80" stroke-width="0.9" opacity="0.8"/>
<line x1="265.3" y1="447.8" x2="270.6" y2="453.9" stroke="#7a2828" stroke-width="0.9" opacity="0.8"/>
<line x1="272.4" y1="478.4" x2="279.4" y2="489.6" stroke="#7a2828" stroke-width="0.9" opacity="0.8"/>
<line x1="284.7" y1="481.7" x2="287.9" y2="487.0" stroke="#b85a58" stroke-width="0.9" opacity="0.8"/>
<line x1="373.8" y1="472.6" x2="367.0" y2="482.3" stroke="#3a1618" stroke-width="0.9" opacity="0.8"/>
<line x1="298.7" y1="457.3" x2="302.9" y2="461.5" stroke="#7a2828" stroke-width="0.9" opacity="0.8"/>
<line x1="360.0" y1="449.0" x2="357.1" y2="460.4" stroke="#7a2828" stroke-width="0.9" opacity="0.8"/>
<line x1="287.4" y1="446.7" x2="293.3" y2="458.3" stroke="#b85a58" stroke-width="0.9" opacity="0.8"/>
<line x1="300.7" y1="462.0" x2="303.2" y2="467.9" stroke="#b85a58" stroke-width="0.9" opacity="0.8"/>
<line x1="262.4" y1="471.8" x2="266.7" y2="477.6" stroke="#7a2828" stroke-width="0.9" opacity="0.8"/>
<line x1="310.1" y1="457.3" x2="318.4" y2="466.3" stroke="#3a1618" stroke-width="0.9" opacity="0.8"/>
<line x1="365.6" y1="478.1" x2="359.8" y2="490.0" stroke="#a84844" stroke-width="0.9" opacity="0.8"/>
<line x1="324.1" y1="474.2" x2="315.1" y2="481.9" stroke="#3a1618" stroke-width="0.9" opacity="0.8"/>
<line x1="332.2" y1="449.8" x2="329.4" y2="459.3" stroke="#a84844" stroke-width="0.9" opacity="0.8"/>
<line x1="271.8" y1="463.8" x2="275.4" y2="471.4" stroke="#7a2828" stroke-width="0.9" opacity="0.8"/>
<line x1="306.4" y1="454.0" x2="312.2" y2="463.8" stroke="#b85a58" stroke-width="0.9" opacity="0.8"/>
<line x1="276.7" y1="450.8" x2="281.2" y2="463.3" stroke="#3a1618" stroke-width="0.9" opacity="0.8"/>
<line x1="324.2" y1="463.0" x2="316.8" y2="472.5" stroke="#3a1618" stroke-width="0.9" opacity="0.8"/>
<line x1="273.3" y1="452.1" x2="275.6" y2="460.5" stroke="#b85a58" stroke-width="0.9" opacity="0.8"/>
<line x1="295.6" y1="459.5" x2="300.9" y2="465.0" stroke="#b85a58" stroke-width="0.9" opacity="0.8"/>
<line x1="349.0" y1="461.3" x2="343.1" y2="469.7" stroke="#3a1618" stroke-width="0.9" opacity="0.8"/>
<line x1="289.5" y1="475.6" x2="295.0" y2="484.6" stroke="#7a2828" stroke-width="0.9" opacity="0.8"/>
<line x1="271.6" y1="465.1" x2="279.3" y2="475.5" stroke="#d88a80" stroke-width="0.9" opacity="0.8"/>
<line x1="267.5" y1="481.7" x2="272.5" y2="491.6" stroke="#3a1618" stroke-width="0.9" opacity="0.8"/>
<line x1="374.3" y1="479.6" x2="372.5" y2="485.6" stroke="#b85a58" stroke-width="0.9" opacity="0.8"/>
<line x1="308.7" y1="476.1" x2="318.2" y2="486.0" stroke="#3a1618" stroke-width="0.9" opacity="0.8"/>
<line x1="256.0" y1="460.4" x2="265.5" y2="468.8" stroke="#3a1618" stroke-width="0.9" opacity="0.8"/>
<line x1="376.6" y1="454.4" x2="371.2" y2="459.4" stroke="#a84844" stroke-width="0.9" opacity="0.8"/>
<line x1="376.5" y1="448.6" x2="372.8" y2="459.6" stroke="#3a1618" stroke-width="0.9" opacity="0.8"/>
<line x1="266.5" y1="476.6" x2="267.9" y2="483.5" stroke="#a84844" stroke-width="0.9" opacity="0.8"/>
<line x1="370.1" y1="471.1" x2="365.6" y2="476.5" stroke="#7a2828" stroke-width="0.9" opacity="0.8"/>
<line x1="321.5" y1="462.4" x2="319.1" y2="468.7" stroke="#7a2828" stroke-width="0.9" opacity="0.8"/>
<line x1="321.0" y1="468.5" x2="316.5" y2="474.8" stroke="#a84844" stroke-width="0.9" opacity="0.8"/>
<line x1="256.1" y1="466.6" x2="262.6" y2="471.7" stroke="#7a2828" stroke-width="0.9" opacity="0.8"/>
<line x1="335.9" y1="481.1" x2="331.7" y2="487.8" stroke="#d88a80" stroke-width="0.9" opacity="0.8"/>
<line x1="259.6" y1="461.3" x2="263.6" y2="466.4" stroke="#d88a80" stroke-width="0.9" opacity="0.8"/>
<line x1="317.8" y1="472.3" x2="321.6" y2="479.4" stroke="#3a1618" stroke-width="0.9" opacity="0.8"/>
<line x1="370.7" y1="453.5" x2="364.0" y2="459.1" stroke="#3a1618" stroke-width="0.9" opacity="0.8"/>
<line x1="300.9" y1="460.6" x2="302.6" y2="468.8" stroke="#a84844" stroke-width="0.9" opacity="0.8"/>
<line x1="264.4" y1="464.8" x2="268.4" y2="476.3" stroke="#d88a80" stroke-width="0.9" opacity="0.8"/>
<line x1="284.6" y1="453.3" x2="290.2" y2="459.5" stroke="#a84844" stroke-width="0.9" opacity="0.8"/>
<line x1="317.5" y1="451.9" x2="320.7" y2="460.6" stroke="#b85a58" stroke-width="0.9" opacity="0.8"/>
<line x1="373.6" y1="450.1" x2="369.1" y2="456.4" stroke="#a84844" stroke-width="0.9" opacity="0.8"/>
<line x1="273.6" y1="446.2" x2="275.8" y2="455.1" stroke="#7a2828" stroke-width="0.9" opacity="0.8"/>
<line x1="346.9" y1="485.9" x2="344.7" y2="494.3" stroke="#d88a80" stroke-width="0.9" opacity="0.8"/>
<line x1="336.9" y1="466.0" x2="332.3" y2="473.2" stroke="#3a1618" stroke-width="0.9" opacity="0.8"/>
<line x1="360.1" y1="485.4" x2="356.2" y2="491.1" stroke="#b85a58" stroke-width="0.9" opacity="0.8"/>
<line x1="290.7" y1="458.8" x2="296.0" y2="463.3" stroke="#d88a80" stroke-width="0.9" opacity="0.8"/>
<line x1="303.1" y1="476.3" x2="308.2" y2="487.7" stroke="#b85a58" stroke-width="0.9" opacity="0.8"/>
<line x1="262.1" y1="463.9" x2="268.0" y2="475.8" stroke="#d88a80" stroke-width="0.9" opacity="0.8"/>
<line x1="296.1" y1="475.0" x2="301.7" y2="484.5" stroke="#d88a80" stroke-width="0.9" opacity="0.8"/>
<line x1="356.7" y1="476.2" x2="351.9" y2="480.2" stroke="#b85a58" stroke-width="0.9" opacity="0.8"/>
<line x1="355.6" y1="446.6" x2="351.1" y2="451.3" stroke="#a84844" stroke-width="0.9" opacity="0.8"/>
<line x1="298.0" y1="455.4" x2="306.4" y2="462.5" stroke="#7a2828" stroke-width="0.9" opacity="0.8"/>
<line x1="348.6" y1="473.0" x2="346.5" y2="481.1" stroke="#a84844" stroke-width="0.9" opacity="0.8"/>
<line x1="369.6" y1="470.6" x2="368.2" y2="476.6" stroke="#d88a80" stroke-width="0.9" opacity="0.8"/>
<line x1="269.3" y1="474.1" x2="275.4" y2="484.6" stroke="#7a2828" stroke-width="0.9" opacity="0.8"/>
<line x1="369.3" y1="478.2" x2="362.1" y2="485.1" stroke="#b85a58" stroke-width="0.9" opacity="0.8"/>
<line x1="355.5" y1="475.0" x2="351.6" y2="486.6" stroke="#a84844" stroke-width="0.9" opacity="0.8"/>
<line x1="285.3" y1="480.2" x2="291.4" y2="490.8" stroke="#a84844" stroke-width="0.9" opacity="0.8"/>
<line x1="265.8" y1="452.3" x2="271.1" y2="458.2" stroke="#b85a58" stroke-width="0.9" opacity="0.8"/>
<line x1="336.5" y1="464.2" x2="332.9" y2="470.6" stroke="#3a1618" stroke-width="0.9" opacity="0.8"/>
<line x1="365.6" y1="485.5" x2="361.2" y2="490.5" stroke="#b85a58" stroke-width="0.9" opacity="0.8"/>
<line x1="308.2" y1="485.5" x2="313.9" y2="490.2" stroke="#d88a80" stroke-width="0.9" opacity="0.8"/>
<line x1="307.7" y1="470.1" x2="315.1" y2="479.4" stroke="#b85a58" stroke-width="0.9" opacity="0.8"/>
<line x1="352.7" y1="456.3" x2="347.4" y2="462.5" stroke="#7a2828" stroke-width="0.9" opacity="0.8"/>
<line x1="347.5" y1="452.4" x2="342.2" y2="458.3" stroke="#d88a80" stroke-width="0.9" opacity="0.8"/>
<line x1="290.9" y1="482.1" x2="293.0" y2="488.3" stroke="#7a2828" stroke-width="0.9" opacity="0.8"/>
<line x1="379.1" y1="465.3" x2="370.7" y2="474.5" stroke="#3a1618" stroke-width="0.9" opacity="0.8"/>
<line x1="378.9" y1="448.3" x2="372.1" y2="458.9" stroke="#3a1618" stroke-width="0.9" opacity="0.8"/>
<line x1="369.4" y1="445.7" x2="364.9" y2="451.0" stroke="#d88a80" stroke-width="0.9" opacity="0.8"/>
<line x1="330.5" y1="478.8" x2="325.9" y2="483.5" stroke="#a84844" stroke-width="0.9" opacity="0.8"/>
<line x1="363.4" y1="462.9" x2="355.4" y2="472.1" stroke="#b85a58" stroke-width="0.9" opacity="0.8"/>
<line x1="269.1" y1="469.0" x2="273.7" y2="475.3" stroke="#7a2828" stroke-width="0.9" opacity="0.8"/>
<line x1="298.2" y1="445.9" x2="303.1" y2="449.8" stroke="#d88a80" stroke-width="0.9" opacity="0.8"/>
<line x1="357.0" y1="478.4" x2="351.9" y2="485.7" stroke="#a84844" stroke-width="0.9" opacity="0.8"/>
<line x1="294.7" y1="452.5" x2="301.8" y2="460.1" stroke="#b85a58" stroke-width="0.9" opacity="0.8"/>
<line x1="306.6" y1="477.4" x2="311.1" y2="483.1" stroke="#a84844" stroke-width="0.9" opacity="0.8"/>
<line x1="267.3" y1="450.9" x2="273.2" y2="458.0" stroke="#7a2828" stroke-width="0.9" opacity="0.8"/>
<line x1="338.8" y1="461.5" x2="329.7" y2="469.3" stroke="#7a2828" stroke-width="0.9" opacity="0.8"/>
<line x1="307.3" y1="444.8" x2="315.7" y2="454.0" stroke="#d88a80" stroke-width="0.9" opacity="0.8"/>
<line x1="304.5" y1="461.0" x2="311.6" y2="467.2" stroke="#d88a80" stroke-width="0.9" opacity="0.8"/>
<line x1="308.5" y1="478.5" x2="314.6" y2="490.0" stroke="#3a1618" stroke-width="0.9" opacity="0.8"/>
<line x1="351.9" y1="449.5" x2="346.4" y2="454.1" stroke="#3a1618" stroke-width="0.9" opacity="0.8"/>
<line x1="267.0" y1="470.1" x2="271.5" y2="479.1" stroke="#d88a80" stroke-width="0.9" opacity="0.8"/>
<line x1="299.1" y1="450.8" x2="301.2" y2="457.0" stroke="#3a1618" stroke-width="0.9" opacity="0.8"/>
<line x1="316.8" y1="477.8" x2="322.6" y2="482.6" stroke="#d88a80" stroke-width="0.9" opacity="0.8"/>
<line x1="359.8" y1="445.8" x2="357.6" y2="454.1" stroke="#a84844" stroke-width="0.9" opacity="0.8"/>
<line x1="370.8" y1="460.3" x2="368.0" y2="470.9" stroke="#d88a80" stroke-width="0.9" opacity="0.8"/>
<line x1="335.4" y1="480.0" x2="330.5" y2="489.7" stroke="#d88a80" stroke-width="0.9" opacity="0.8"/>
<line x1="358.8" y1="451.7" x2="352.6" y2="458.4" stroke="#a84844" stroke-width="0.9" opacity="0.8"/>
<line x1="275.4" y1="459.1" x2="279.5" y2="472.2" stroke="#d88a80" stroke-width="0.9" opacity="0.8"/>
<line x1="261.1" y1="467.6" x2="265.3" y2="472.3" stroke="#7a2828" stroke-width="0.9" opacity="0.8"/>
<line x1="270.6" y1="469.2" x2="276.7" y2="478.4" stroke="#7a2828" stroke-width="0.9" opacity="0.8"/>
<line x1="336.5" y1="456.9" x2="330.4" y2="463.8" stroke="#7a2828" stroke-width="0.9" opacity="0.8"/>
<line x1="311.4" y1="462.4" x2="313.8" y2="473.1" stroke="#3a1618" stroke-width="0.9" opacity="0.8"/>
<line x1="313.7" y1="462.8" x2="321.1" y2="472.9" stroke="#d88a80" stroke-width="0.9" opacity="0.8"/>
<line x1="356.5" y1="460.8" x2="349.8" y2="466.6" stroke="#7a2828" stroke-width="0.9" opacity="0.8"/>
<line x1="267.4" y1="462.6" x2="270.7" y2="467.9" stroke="#d88a80" stroke-width="0.9" opacity="0.8"/>
<line x1="266.2" y1="474.8" x2="273.0" y2="482.2" stroke="#b85a58" stroke-width="0.9" opacity="0.8"/>
<line x1="349.3" y1="481.6" x2="344.0" y2="492.7" stroke="#b85a58" stroke-width="0.9" opacity="0.8"/>
<line x1="362.3" y1="485.8" x2="357.5" y2="497.4" stroke="#d88a80" stroke-width="0.9" opacity="0.8"/>
<line x1="272.3" y1="481.2" x2="277.2" y2="492.7" stroke="#d88a80" stroke-width="0.9" opacity="0.8"/>
<line x1="341.1" y1="474.3" x2="332.5" y2="483.6" stroke="#a84844" stroke-width="0.9" opacity="0.8"/>
<line x1="349.8" y1="450.7" x2="347.6" y2="458.6" stroke="#3a1618" stroke-width="0.9" opacity="0.8"/>
<line x1="273.8" y1="465.1" x2="279.5" y2="470.2" stroke="#7a2828" stroke-width="0.9" opacity="0.8"/>
<line x1="332.4" y1="454.0" x2="327.8" y2="460.1" stroke="#3a1618" stroke-width="0.9" opacity="0.8"/>
<line x1="276.0" y1="483.3" x2="284.2" y2="493.6" stroke="#d88a80" stroke-width="0.9" opacity="0.8"/>
<line x1="354.2" y1="455.1" x2="352.0" y2="461.1" stroke="#7a2828" stroke-width="0.9" opacity="0.8"/>
<line x1="375.8" y1="463.0" x2="369.9" y2="472.9" stroke="#b85a58" stroke-width="0.9" opacity="0.8"/>
<line x1="287.3" y1="466.5" x2="295.8" y2="474.8" stroke="#7a2828" stroke-width="0.9" opacity="0.8"/>
<line x1="288.8" y1="485.6" x2="293.9" y2="492.9" stroke="#b85a58" stroke-width="0.9" opacity="0.8"/>
</g>
<g stroke="#a9cdd6" stroke-width="3.2" fill="none" stroke-linecap="round">
<path d="M289 442 Q 262 455, 258 485"/>
<path d="M292 441 Q 275 460, 275 486"/>
<path d="M293 441 Q 300 465, 308 486"/>
<path d="M345 441 Q 320 460, 296 486"/>
<path d="M322 443 Q 338 460, 344 486"/>
<path d="M346 441 Q 362 460, 364 486"/>
<path d="M349 443 Q 375 456, 380 484"/>
<path d="M266 456 Q 300 440, 346 442"/>
<path d="M300 441 Q 345 440, 370 456"/>
</g>
<path d="M248 490 L391 490 L391 620 C 360 627, 290 628, 252 623 Z" fill="url(#stackG)"/>
<path d="M248 490 L391 490 L391 620 C 360 627, 290 628, 252 623 Z" fill="url(#lam)" opacity="0.22"/>
<rect x="289" y="491" width="27" height="30" fill="url(#hiG)"/>
<rect x="326" y="491" width="28" height="20" fill="url(#hiG)"/>
<polygon points="253,483 256.5,483 260.6,623 257,623" fill="#b82a34"/>
<polygon points="253.9,491 255.6,491 259.6,623 258.0,623" fill="#e07885" opacity="0.45"/>
<polygon points="280.5,483 286,483 288,623 283,623" fill="#b82a34"/>
<polygon points="282.4,491 284.1,491 286.3,623 284.7,623" fill="#e07885" opacity="0.45"/>
<polygon points="317,483 324,483 325,623 318,623" fill="#b82a34"/>
<polygon points="319.7,491 321.3,491 322.3,623 320.7,623" fill="#e07885" opacity="0.45"/>
<polygon points="355,483 361.5,483 361,623 354.6,623" fill="#b82a34"/>
<polygon points="357.4,491 359.1,491 358.6,623 357.0,623" fill="#e07885" opacity="0.45"/>
<polygon points="381.5,483 385,483 386,623 382,623" fill="#b82a34"/>
<polygon points="382.4,491 384.1,491 384.8,623 383.2,623" fill="#e07885" opacity="0.45"/>
<polygon points="277,491 280.5,491 283,623 279.4,623" fill="#c6a2b2" opacity="0.85"/>
<polygon points="361.5,491 364,491 364,623 361,623" fill="#b89aaa" opacity="0.7"/>
<polygon points="267,518 269,540 266,548" fill="#dfeaf0" opacity="0.8"/>
<path d="M271 483 H295 V487 L287.0 491 H279.0 L271 487Z" fill="#d23a3f"/>
<path d="M307 483 H334 V487 L324.5 491 H316.5 L307 487Z" fill="#d23a3f"/>
<path d="M346 483 H370 V487 L362.0 491 H354.0 L346 487Z" fill="#d23a3f"/>
<path d="M376 483 H388 V487 L386.0 491 H378.0 L376 487Z" fill="#d23a3f"/>
<rect x="250" y="483" width="9" height="8" fill="#d23a3f"/>
<rect x="259" y="483" width="11" height="8" fill="#c4dde0"/>
<rect x="295" y="483" width="11" height="8" fill="#c4dde0"/>
<rect x="334" y="483" width="12" height="8" fill="#c4dde0"/>
<rect x="370" y="483" width="6" height="8" fill="#c4dde0"/>
<path d="M251 539.6 L273.6 517 L273.6 528.6 L367.3 528.6 L367.3 517 L390 539.6 L367.3 562 L367.3 551.2 L273.6 551.2 L273.6 562 Z" fill="#5b9ad6" stroke="#bb2030" stroke-width="2.2" stroke-linejoin="miter"/>
<text x="293" y="547" font-size="18" fill="#ffffff" textLength="55" lengthAdjust="spacingAndGlyphs">41mm</text>
<clipPath id="lwClip"><path d="M251 622 C 290 628, 360 627, 389 619 C 389 638, 378 655, 362 667 C 340 671, 305 671, 287 668 C 268 654, 255 640, 251 621 Z"/></clipPath>
<path d="M251 622 C 290 628, 360 627, 389 619 C 389 638, 378 655, 362 667 C 340 671, 305 671, 287 668 C 268 654, 255 640, 251 621 Z" fill="url(#dome2)"/>
<g clip-path="url(#lwClip)">
<line x1="314.2" y1="633.4" x2="308.3" y2="636.1" stroke="#a84a3e" stroke-width="1.1" opacity="0.7"/>
<line x1="298.6" y1="666.6" x2="306.7" y2="669.5" stroke="#c87868" stroke-width="1.1" opacity="0.7"/>
<line x1="288.2" y1="638.2" x2="294.8" y2="641.8" stroke="#c87868" stroke-width="1.1" opacity="0.7"/>
<line x1="277.6" y1="635.5" x2="272.9" y2="638.0" stroke="#a84a3e" stroke-width="1.1" opacity="0.7"/>
<line x1="297.8" y1="648.0" x2="304.6" y2="652.1" stroke="#2e1a20" stroke-width="1.1" opacity="0.7"/>
<line x1="286.1" y1="652.2" x2="281.9" y2="655.0" stroke="#2e1a20" stroke-width="1.1" opacity="0.7"/>
<line x1="345.5" y1="644.9" x2="339.2" y2="651.9" stroke="#a84a3e" stroke-width="1.1" opacity="0.7"/>
<line x1="309.4" y1="637.1" x2="314.6" y2="643.2" stroke="#d89080" stroke-width="1.1" opacity="0.7"/>
<line x1="333.0" y1="647.7" x2="325.0" y2="652.9" stroke="#c87868" stroke-width="1.1" opacity="0.7"/>
<line x1="269.3" y1="627.1" x2="265.4" y2="630.7" stroke="#c87868" stroke-width="1.1" opacity="0.7"/>
<line x1="263.5" y1="649.1" x2="256.7" y2="651.3" stroke="#d89080" stroke-width="1.1" opacity="0.7"/>
<line x1="358.0" y1="633.3" x2="364.3" y2="638.5" stroke="#d89080" stroke-width="1.1" opacity="0.7"/>
<line x1="346.4" y1="626.3" x2="351.5" y2="628.2" stroke="#d89080" stroke-width="1.1" opacity="0.7"/>
<line x1="282.7" y1="667.9" x2="278.5" y2="671.5" stroke="#a84a3e" stroke-width="1.1" opacity="0.7"/>
<line x1="346.0" y1="637.2" x2="353.2" y2="641.5" stroke="#a84a3e" stroke-width="1.1" opacity="0.7"/>
<line x1="296.9" y1="665.0" x2="288.0" y2="668.1" stroke="#c87868" stroke-width="1.1" opacity="0.7"/>
<line x1="282.0" y1="664.0" x2="273.0" y2="667.5" stroke="#a84a3e" stroke-width="1.1" opacity="0.7"/>
<line x1="284.6" y1="642.3" x2="293.0" y2="647.0" stroke="#d89080" stroke-width="1.1" opacity="0.7"/>
<line x1="317.7" y1="648.3" x2="313.1" y2="653.8" stroke="#2e1a20" stroke-width="1.1" opacity="0.7"/>
<line x1="329.3" y1="638.9" x2="323.5" y2="644.2" stroke="#2e1a20" stroke-width="1.1" opacity="0.7"/>
<line x1="279.1" y1="627.1" x2="274.4" y2="632.0" stroke="#2e1a20" stroke-width="1.1" opacity="0.7"/>
<line x1="344.7" y1="627.3" x2="338.7" y2="633.3" stroke="#c87868" stroke-width="1.1" opacity="0.7"/>
<line x1="269.8" y1="650.8" x2="262.3" y2="656.5" stroke="#d89080" stroke-width="1.1" opacity="0.7"/>
<line x1="274.6" y1="634.6" x2="267.9" y2="641.7" stroke="#c87868" stroke-width="1.1" opacity="0.7"/>
<line x1="359.4" y1="652.5" x2="355.0" y2="656.2" stroke="#2e1a20" stroke-width="1.1" opacity="0.7"/>
<line x1="296.7" y1="640.1" x2="301.5" y2="644.2" stroke="#a84a3e" stroke-width="1.1" opacity="0.7"/>
<line x1="267.7" y1="657.9" x2="276.5" y2="660.9" stroke="#c87868" stroke-width="1.1" opacity="0.7"/>
<line x1="355.1" y1="627.3" x2="349.4" y2="630.9" stroke="#c87868" stroke-width="1.1" opacity="0.7"/>
<line x1="325.5" y1="635.1" x2="318.1" y2="637.8" stroke="#a84a3e" stroke-width="1.1" opacity="0.7"/>
<line x1="282.1" y1="626.1" x2="278.4" y2="629.5" stroke="#d89080" stroke-width="1.1" opacity="0.7"/>
<line x1="273.3" y1="655.2" x2="280.7" y2="658.1" stroke="#a84a3e" stroke-width="1.1" opacity="0.7"/>
<line x1="330.2" y1="632.7" x2="323.3" y2="635.5" stroke="#c87868" stroke-width="1.1" opacity="0.7"/>
<line x1="372.8" y1="658.2" x2="365.9" y2="662.6" stroke="#a84a3e" stroke-width="1.1" opacity="0.7"/>
<line x1="273.2" y1="665.0" x2="266.5" y2="667.3" stroke="#c87868" stroke-width="1.1" opacity="0.7"/>
<line x1="305.9" y1="638.7" x2="300.3" y2="642.7" stroke="#2e1a20" stroke-width="1.1" opacity="0.7"/>
<line x1="373.4" y1="631.3" x2="367.5" y2="634.6" stroke="#a84a3e" stroke-width="1.1" opacity="0.7"/>
<line x1="323.6" y1="662.5" x2="328.4" y2="665.8" stroke="#d89080" stroke-width="1.1" opacity="0.7"/>
<line x1="343.3" y1="636.8" x2="348.7" y2="641.7" stroke="#2e1a20" stroke-width="1.1" opacity="0.7"/>
<line x1="321.9" y1="637.2" x2="314.0" y2="640.7" stroke="#2e1a20" stroke-width="1.1" opacity="0.7"/>
<line x1="347.3" y1="651.3" x2="342.1" y2="655.4" stroke="#2e1a20" stroke-width="1.1" opacity="0.7"/>
<line x1="292.5" y1="666.1" x2="283.1" y2="668.8" stroke="#c87868" stroke-width="1.1" opacity="0.7"/>
<line x1="285.1" y1="632.3" x2="291.2" y2="638.4" stroke="#d89080" stroke-width="1.1" opacity="0.7"/>
<line x1="294.3" y1="630.6" x2="300.0" y2="632.5" stroke="#d89080" stroke-width="1.1" opacity="0.7"/>
<line x1="316.7" y1="626.5" x2="324.7" y2="629.5" stroke="#a84a3e" stroke-width="1.1" opacity="0.7"/>
<line x1="316.7" y1="632.0" x2="321.1" y2="634.4" stroke="#2e1a20" stroke-width="1.1" opacity="0.7"/>
<rect x="252" y="621" width="10" height="9" fill="#c8343a"/>
<rect x="276" y="623" width="16" height="9" fill="#c8343a"/>
<rect x="312" y="624" width="18" height="9" fill="#c8343a"/>
<rect x="350" y="623" width="18" height="9" fill="#c8343a"/>
<rect x="378" y="619" width="10" height="9" fill="#c8343a"/>
<g stroke="#a9cfda" stroke-width="2.6" fill="none" stroke-linecap="round">
<path d="M230 624 Q 260 646, 300 668"/>
<path d="M252 624 Q 282 646, 322 668"/>
<path d="M276 624 Q 306 646, 346 668"/>
<path d="M300 624 Q 330 646, 370 668"/>
<path d="M324 624 Q 354 646, 394 668"/>
<path d="M348 624 Q 378 646, 418 668"/>
<path d="M300 624 Q 270 646, 230 668"/>
<path d="M324 624 Q 294 646, 254 668"/>
<path d="M348 624 Q 318 646, 278 668"/>
<path d="M372 624 Q 342 646, 302 668"/>
<path d="M396 624 Q 366 646, 326 668"/>
<path d="M420 624 Q 390 646, 350 668"/>
<path d="M256 640 C 290 652, 350 652, 386 638"/>
<path d="M272 656 C 300 664, 345 664, 372 654"/>
</g>
</g>
<path d="M272.5 695 L272.5 679 C 272.5 672, 280 668, 292 668 L 356 668 C 368 668, 374.5 672, 374.5 679 L 374.5 695 Z" fill="#5e3228"/>
<clipPath id="riserClip"><path d="M272.5 695 L272.5 679 C 272.5 672, 280 668, 292 668 L 356 668 C 368 668, 374.5 672, 374.5 679 L 374.5 695 Z"/></clipPath>
<g clip-path="url(#riserClip)">
<line x1="365.5" y1="675.2" x2="366.6" y2="681.1" stroke="#7a4034" stroke-width="1.3" opacity="0.8"/>
<line x1="359.1" y1="679.7" x2="361.5" y2="685.8" stroke="#8a9a9c" stroke-width="1.3" opacity="0.8"/>
<line x1="359.8" y1="679.9" x2="361.4" y2="684.5" stroke="#c88a78" stroke-width="1.3" opacity="0.8"/>
<line x1="298.8" y1="680.3" x2="302.0" y2="682.6" stroke="#7a4034" stroke-width="1.3" opacity="0.8"/>
<line x1="345.5" y1="679.0" x2="342.8" y2="682.8" stroke="#7a4034" stroke-width="1.3" opacity="0.8"/>
<line x1="274.0" y1="683.3" x2="274.3" y2="689.0" stroke="#3a1a14" stroke-width="1.3" opacity="0.8"/>
<line x1="364.1" y1="673.2" x2="358.3" y2="675.7" stroke="#a86a58" stroke-width="1.3" opacity="0.8"/>
<line x1="275.9" y1="677.3" x2="271.5" y2="681.5" stroke="#3a1a14" stroke-width="1.3" opacity="0.8"/>
<line x1="325.5" y1="668.9" x2="326.4" y2="674.0" stroke="#7a4034" stroke-width="1.3" opacity="0.8"/>
<line x1="324.8" y1="679.1" x2="328.4" y2="682.7" stroke="#7a4034" stroke-width="1.3" opacity="0.8"/>
<line x1="348.4" y1="675.7" x2="351.9" y2="677.1" stroke="#8a9a9c" stroke-width="1.3" opacity="0.8"/>
<line x1="350.6" y1="669.3" x2="354.6" y2="671.1" stroke="#a86a58" stroke-width="1.3" opacity="0.8"/>
<line x1="298.0" y1="674.3" x2="295.1" y2="675.9" stroke="#7a4034" stroke-width="1.3" opacity="0.8"/>
<line x1="336.7" y1="679.8" x2="337.4" y2="683.2" stroke="#c88a78" stroke-width="1.3" opacity="0.8"/>
<line x1="348.4" y1="684.9" x2="348.6" y2="688.7" stroke="#7a4034" stroke-width="1.3" opacity="0.8"/>
<line x1="319.6" y1="670.1" x2="322.4" y2="671.8" stroke="#3a1a14" stroke-width="1.3" opacity="0.8"/>
<line x1="320.3" y1="677.7" x2="316.1" y2="683.1" stroke="#c88a78" stroke-width="1.3" opacity="0.8"/>
<line x1="340.6" y1="682.8" x2="343.6" y2="686.3" stroke="#c88a78" stroke-width="1.3" opacity="0.8"/>
<line x1="350.3" y1="679.3" x2="353.3" y2="683.2" stroke="#3a1a14" stroke-width="1.3" opacity="0.8"/>
<line x1="299.5" y1="674.1" x2="296.9" y2="678.1" stroke="#3a1a14" stroke-width="1.3" opacity="0.8"/>
<line x1="321.6" y1="682.3" x2="324.5" y2="685.6" stroke="#c88a78" stroke-width="1.3" opacity="0.8"/>
<line x1="305.0" y1="676.2" x2="306.0" y2="679.4" stroke="#c88a78" stroke-width="1.3" opacity="0.8"/>
<line x1="287.7" y1="672.8" x2="286.8" y2="676.0" stroke="#8a9a9c" stroke-width="1.3" opacity="0.8"/>
<line x1="365.3" y1="681.9" x2="360.5" y2="686.0" stroke="#8a9a9c" stroke-width="1.3" opacity="0.8"/>
<line x1="273.5" y1="667.2" x2="278.5" y2="669.8" stroke="#c88a78" stroke-width="1.3" opacity="0.8"/>
<line x1="334.6" y1="678.0" x2="337.5" y2="680.5" stroke="#7a4034" stroke-width="1.3" opacity="0.8"/>
<line x1="307.7" y1="669.9" x2="312.8" y2="673.4" stroke="#3a1a14" stroke-width="1.3" opacity="0.8"/>
<line x1="334.8" y1="680.1" x2="337.8" y2="681.5" stroke="#8a9a9c" stroke-width="1.3" opacity="0.8"/>
<line x1="353.2" y1="682.9" x2="349.3" y2="687.3" stroke="#8a9a9c" stroke-width="1.3" opacity="0.8"/>
<line x1="280.1" y1="682.9" x2="281.5" y2="686.1" stroke="#a86a58" stroke-width="1.3" opacity="0.8"/>
<line x1="299.2" y1="671.4" x2="295.5" y2="674.7" stroke="#a86a58" stroke-width="1.3" opacity="0.8"/>
<line x1="321.9" y1="684.2" x2="323.7" y2="687.7" stroke="#3a1a14" stroke-width="1.3" opacity="0.8"/>
<line x1="327.6" y1="683.4" x2="321.7" y2="685.8" stroke="#7a4034" stroke-width="1.3" opacity="0.8"/>
<line x1="343.7" y1="676.5" x2="341.4" y2="680.8" stroke="#7a4034" stroke-width="1.3" opacity="0.8"/>
<line x1="315.1" y1="685.3" x2="310.4" y2="688.2" stroke="#a86a58" stroke-width="1.3" opacity="0.8"/>
<line x1="274.1" y1="667.9" x2="277.9" y2="673.8" stroke="#a86a58" stroke-width="1.3" opacity="0.8"/>
<line x1="324.6" y1="676.2" x2="327.2" y2="678.0" stroke="#7a4034" stroke-width="1.3" opacity="0.8"/>
<line x1="336.4" y1="673.4" x2="339.8" y2="676.3" stroke="#7a4034" stroke-width="1.3" opacity="0.8"/>
<line x1="352.2" y1="677.5" x2="355.6" y2="679.8" stroke="#c88a78" stroke-width="1.3" opacity="0.8"/>
<line x1="315.5" y1="677.5" x2="318.5" y2="680.5" stroke="#7a4034" stroke-width="1.3" opacity="0.8"/>
<line x1="313.6" y1="676.6" x2="311.0" y2="680.9" stroke="#3a1a14" stroke-width="1.3" opacity="0.8"/>
<line x1="339.4" y1="682.0" x2="337.7" y2="686.0" stroke="#c88a78" stroke-width="1.3" opacity="0.8"/>
<line x1="285.1" y1="685.5" x2="279.3" y2="689.3" stroke="#7a4034" stroke-width="1.3" opacity="0.8"/>
<line x1="346.4" y1="683.8" x2="346.8" y2="687.0" stroke="#c88a78" stroke-width="1.3" opacity="0.8"/>
<line x1="283.2" y1="667.9" x2="286.6" y2="671.4" stroke="#a86a58" stroke-width="1.3" opacity="0.8"/>
<line x1="353.3" y1="684.3" x2="354.7" y2="689.6" stroke="#8a9a9c" stroke-width="1.3" opacity="0.8"/>
<line x1="362.3" y1="668.6" x2="357.3" y2="671.1" stroke="#3a1a14" stroke-width="1.3" opacity="0.8"/>
<line x1="282.4" y1="670.4" x2="277.0" y2="673.1" stroke="#a86a58" stroke-width="1.3" opacity="0.8"/>
<line x1="310.0" y1="682.6" x2="313.3" y2="686.7" stroke="#c88a78" stroke-width="1.3" opacity="0.8"/>
<line x1="360.8" y1="670.5" x2="358.1" y2="671.9" stroke="#8a9a9c" stroke-width="1.3" opacity="0.8"/>
<line x1="338.1" y1="684.7" x2="333.5" y2="687.3" stroke="#a86a58" stroke-width="1.3" opacity="0.8"/>
<line x1="356.9" y1="681.7" x2="355.9" y2="687.4" stroke="#7a4034" stroke-width="1.3" opacity="0.8"/>
<line x1="318.0" y1="667.3" x2="316.6" y2="672.4" stroke="#3a1a14" stroke-width="1.3" opacity="0.8"/>
<line x1="321.0" y1="674.8" x2="316.4" y2="678.1" stroke="#3a1a14" stroke-width="1.3" opacity="0.8"/>
<line x1="364.3" y1="678.9" x2="363.7" y2="681.9" stroke="#a86a58" stroke-width="1.3" opacity="0.8"/>
<line x1="373.6" y1="683.3" x2="371.4" y2="686.0" stroke="#7a4034" stroke-width="1.3" opacity="0.8"/>
<line x1="273.8" y1="680.7" x2="270.4" y2="685.5" stroke="#3a1a14" stroke-width="1.3" opacity="0.8"/>
<line x1="367.0" y1="674.0" x2="370.3" y2="678.7" stroke="#3a1a14" stroke-width="1.3" opacity="0.8"/>
<line x1="347.2" y1="668.6" x2="348.9" y2="674.2" stroke="#7a4034" stroke-width="1.3" opacity="0.8"/>
<line x1="341.0" y1="683.9" x2="343.7" y2="685.7" stroke="#a86a58" stroke-width="1.3" opacity="0.8"/>
<line x1="273.2" y1="667.3" x2="275.4" y2="673.1" stroke="#a86a58" stroke-width="1.3" opacity="0.8"/>
<line x1="312.1" y1="672.9" x2="313.7" y2="679.6" stroke="#7a4034" stroke-width="1.3" opacity="0.8"/>
<line x1="334.7" y1="673.0" x2="339.9" y2="675.8" stroke="#7a4034" stroke-width="1.3" opacity="0.8"/>
<line x1="341.7" y1="669.8" x2="344.6" y2="673.1" stroke="#3a1a14" stroke-width="1.3" opacity="0.8"/>
<line x1="336.9" y1="674.9" x2="335.2" y2="680.9" stroke="#c88a78" stroke-width="1.3" opacity="0.8"/>
<line x1="352.8" y1="677.8" x2="351.3" y2="680.6" stroke="#8a9a9c" stroke-width="1.3" opacity="0.8"/>
<line x1="306.2" y1="678.5" x2="312.0" y2="681.1" stroke="#8a9a9c" stroke-width="1.3" opacity="0.8"/>
<line x1="357.8" y1="678.1" x2="361.4" y2="679.8" stroke="#7a4034" stroke-width="1.3" opacity="0.8"/>
<line x1="342.5" y1="678.4" x2="347.6" y2="682.1" stroke="#c88a78" stroke-width="1.3" opacity="0.8"/>
<line x1="342.9" y1="673.1" x2="341.0" y2="676.2" stroke="#a86a58" stroke-width="1.3" opacity="0.8"/>
<line x1="301.7" y1="669.7" x2="307.3" y2="673.8" stroke="#3a1a14" stroke-width="1.3" opacity="0.8"/>
<line x1="300.2" y1="683.2" x2="304.1" y2="687.4" stroke="#7a4034" stroke-width="1.3" opacity="0.8"/>
<line x1="307.7" y1="668.6" x2="308.5" y2="674.8" stroke="#3a1a14" stroke-width="1.3" opacity="0.8"/>
<line x1="353.1" y1="680.7" x2="357.0" y2="682.4" stroke="#a86a58" stroke-width="1.3" opacity="0.8"/>
<line x1="341.8" y1="675.8" x2="339.2" y2="678.9" stroke="#a86a58" stroke-width="1.3" opacity="0.8"/>
<line x1="353.5" y1="675.7" x2="348.3" y2="679.2" stroke="#a86a58" stroke-width="1.3" opacity="0.8"/>
<line x1="296.0" y1="678.0" x2="301.3" y2="681.8" stroke="#8a9a9c" stroke-width="1.3" opacity="0.8"/>
<line x1="305.1" y1="676.6" x2="302.5" y2="679.5" stroke="#a86a58" stroke-width="1.3" opacity="0.8"/>
<line x1="290.6" y1="680.3" x2="288.9" y2="685.3" stroke="#7a4034" stroke-width="1.3" opacity="0.8"/>
<line x1="352.3" y1="683.3" x2="348.5" y2="688.8" stroke="#7a4034" stroke-width="1.3" opacity="0.8"/>
<rect x="274.5" y="684" width="2.5" height="11" fill="#cfa096"/>
<rect x="274.5" y="684" width="1.0" height="11" fill="#eab8a4" opacity="0.6"/>
<rect x="281.0" y="684" width="3.0" height="11" fill="#cfa096"/>
<rect x="281.0" y="684" width="1.2" height="11" fill="#eab8a4" opacity="0.6"/>
<rect x="288.0" y="684" width="4.0" height="11" fill="#cfa096"/>
<rect x="288.0" y="684" width="1.6" height="11" fill="#eab8a4" opacity="0.6"/>
<rect x="296.0" y="684" width="5.0" height="11" fill="#cfa096"/>
<rect x="296.0" y="684" width="2.0" height="11" fill="#eab8a4" opacity="0.6"/>
<rect x="305.0" y="684" width="6.0" height="11" fill="#cfa096"/>
<rect x="305.0" y="684" width="2.4" height="11" fill="#eab8a4" opacity="0.6"/>
<rect x="315.0" y="684" width="6.5" height="11" fill="#cfa096"/>
<rect x="315.0" y="684" width="2.6" height="11" fill="#eab8a4" opacity="0.6"/>
<rect x="325.5" y="684" width="6.5" height="11" fill="#cfa096"/>
<rect x="325.5" y="684" width="2.6" height="11" fill="#eab8a4" opacity="0.6"/>
<rect x="336.0" y="684" width="6.0" height="11" fill="#cfa096"/>
<rect x="336.0" y="684" width="2.4" height="11" fill="#eab8a4" opacity="0.6"/>
<rect x="346.0" y="684" width="5.0" height="11" fill="#cfa096"/>
<rect x="346.0" y="684" width="2.0" height="11" fill="#eab8a4" opacity="0.6"/>
<rect x="355.0" y="684" width="4.0" height="11" fill="#cfa096"/>
<rect x="355.0" y="684" width="1.6" height="11" fill="#eab8a4" opacity="0.6"/>
<rect x="363.0" y="684" width="3.0" height="11" fill="#cfa096"/>
<rect x="363.0" y="684" width="1.2" height="11" fill="#eab8a4" opacity="0.6"/>
<rect x="370.0" y="684" width="2.5" height="11" fill="#cfa096"/>
<rect x="370.0" y="684" width="1.0" height="11" fill="#eab8a4" opacity="0.6"/>
</g>
<path d="M284 663 C 300 668, 345 668, 363 662 L 362 676 C 345 681, 300 681, 286 677 Z" fill="#a6d2da"/>
<path d="M287 670 C 305 673, 340 673, 361 669" stroke="#cde6ea" stroke-width="1.5" fill="none"/>
<path d="M276.6 695 L371.2 695 L371.2 729.5 C 352 741, 296 742, 276.6 733 Z" fill="url(#copper)"/>
<clipPath id="commClip"><path d="M276.6 695 L371.2 695 L371.2 729.5 C 352 741, 296 742, 276.6 733 Z"/></clipPath>
<g clip-path="url(#commClip)">
<line x1="285.8" y1="695" x2="285.8" y2="745" stroke="#6a3424" stroke-width="1.1"/>
<line x1="295.5" y1="695" x2="295.5" y2="745" stroke="#6a3424" stroke-width="1.1"/>
<line x1="306.5" y1="695" x2="306.5" y2="745" stroke="#6a3424" stroke-width="1.1"/>
<line x1="319.3" y1="695" x2="319.3" y2="745" stroke="#6a3424" stroke-width="1.1"/>
<line x1="332.2" y1="695" x2="332.2" y2="745" stroke="#6a3424" stroke-width="1.1"/>
<line x1="345" y1="695" x2="345" y2="745" stroke="#6a3424" stroke-width="1.1"/>
<line x1="355.4" y1="695" x2="355.4" y2="745" stroke="#6a3424" stroke-width="1.1"/>
<line x1="365" y1="695" x2="365" y2="745" stroke="#6a3424" stroke-width="1.1"/>
</g>
<rect x="276.6" y="695" width="94.6" height="4" fill="#b97a62" opacity="0.6"/>
<path d="M276.6 731 C 295 740, 355 740, 371.2 727.5 L 369 733 C 350 747, 300 748, 280 738 Z" fill="#33404a"/>
<path d="M310.2 743 L338.9 743 L337.5 755 L337.5 767 C 336 773, 314 774, 312 767 L 312 755 Z" fill="url(#shaft)"/>
<path d="M310.5 745 L338.6 745 L337.8 754 C 330 752, 318 752, 311.8 754 Z" fill="#243e4a" opacity="0.6"/>
<path d="M312 755 C 320 758, 332 758, 337.5 755" stroke="#2a3e46" stroke-width="1.3" fill="none"/>
<g stroke="#1e1e1e" stroke-width="1.7" stroke-dasharray="6 3.6" fill="none">
<line x1="293" y1="247.8" x2="565" y2="247.8"/>
<line x1="267" y1="358.6" x2="472" y2="358.6"/>
<line x1="262" y1="488.6" x2="405" y2="488.6"/>
<line x1="297" y1="626.3" x2="408" y2="626.3"/>
<line x1="300" y1="760" x2="461" y2="760"/>
<line x1="256" y1="773.7" x2="489" y2="773.7"/>
</g>
<line x1="434.6" y1="364.8" x2="434.6" y2="751.5" stroke="#2a2a2a" stroke-width="1.8"/>
<path d="M434.6 358.8 l-4.6 10 h9.2z" fill="#1e1e1e"/><path d="M434.6 757.5 l-4.6 -10 h9.2z" fill="#1e1e1e"/>
<line x1="477.8" y1="254.2" x2="477.8" y2="767.4" stroke="#8a8a8a" stroke-width="1.8"/>
<path d="M477.8 248.2 l-4.6 10 h9.2z" fill="#1e1e1e"/><path d="M477.8 773.4 l-4.6 -10 h9.2z" fill="#1e1e1e"/>
<line x1="408.7" y1="494.3" x2="408.7" y2="620" stroke="#7a7a7a" stroke-width="1.6"/>
<path d="M408.7 488.3 l-4.6 10 h9.2z" fill="#1e1e1e"/><path d="M408.7 626 l-4.6 -10 h9.2z" fill="#1e1e1e"/>
<line x1="159" y1="358.2" x2="287.5" y2="358.2" stroke="#2a2a2a" stroke-width="1.5"/>
<path d="M293.5 358.2 l-8 -3.6 v7.2z" fill="#1e1e1e"/>
<line x1="120" y1="525.2" x2="242" y2="525.2" stroke="#2a2a2a" stroke-width="1.5"/>
<path d="M248 525.2 l-8 -3.6 v7.2z" fill="#1e1e1e"/>
<line x1="221" y1="769.3" x2="304" y2="769.3" stroke="#2a2a2a" stroke-width="1.5"/>
<path d="M310 769.3 l-8 -3.6 v7.2z" fill="#1e1e1e"/>
<circle cx="275.3" cy="625.8" r="25.3" fill="none" stroke="#d5202b" stroke-width="3.8"/>
<path d="M251 614 C 246 628, 250 645, 266 654" stroke="#d5202b" stroke-width="1" fill="none" opacity="0.7"/>
<path d="M249 622 C 248 636, 254 650, 270 657" stroke="#d5202b" stroke-width="0.8" fill="none" opacity="0.5"/>
<path d="M262 601 C 270 598, 282 598, 290 602" stroke="#d5202b" stroke-width="1.5" fill="none" opacity="0.6"/>
<text x="253.9" y="637.5" font-family="Liberation Serif" font-weight="bold" font-size="22" stroke="#141414" stroke-width="0.2" fill="#141414" textLength="44.4" lengthAdjust="spacingAndGlyphs">T&amp;T</text>
<rect x="241.6" y="655.5" width="77.4" height="12.2" rx="6.1" fill="#d5202b"/>
<text x="247" y="665" font-size="10.2" font-weight="bold" fill="#ffffff" textLength="68.8" lengthAdjust="spacingAndGlyphs">0967.385.016</text>
</svg>
<div id="label">
<svg width="300" height="260" viewBox="0 0 300 260" style="position:absolute;left:0;top:0">
 <defs>
  <linearGradient id="lfr" x1="0" y1="0" x2="0.3" y2="1"><stop offset="0" stop-color="#a6cada"/><stop offset="1" stop-color="#96bacb"/></linearGradient>
  <linearGradient id="lcell" gradientUnits="userSpaceOnUse" x1="200" y1="46" x2="150" y2="252"><stop offset="0" stop-color="#b4d6e4"/><stop offset="1" stop-color="#9dc0cf"/></linearGradient>
  <linearGradient id="lteal" x1="0" y1="0" x2="0" y2="1"><stop offset="0" stop-color="#08576a"/><stop offset="1" stop-color="#024a5e"/></linearGradient>
 </defs>
 <rect x="0" y="0" width="300" height="260" fill="url(#lfr)"/>
 <rect x="2" y="1.5" width="296" height="3" fill="#acd0de"/>
 <rect x="5" y="5" width="288" height="36" fill="#095b70"/>
 <path d="M261.5 5 L293 5 L293 31 Z" fill="#e0463a"/><path d="M261.5 5 L293 31" stroke="#24404a" stroke-width="0.8"/>
 <text x="272" y="11" font-size="6" font-weight="bold" font-style="italic" fill="#fff" transform="rotate(42 272 11)">TOTAL</text>
 <g fill="#aecfd8"><polygon points="31.46,12.54 58.19,12.48 57.22,16.02 48.11,16.04 42.34,33.17 32.87,33.17 39.41,16.06 32.21,16.07"/><path fill-rule="evenodd" d="M58.87,12.48 81.83,12.42 77.02,31.15 74.27,33.18 53.61,33.18 51.49,31.15 Z M64.00,16.70 73.49,16.69 69.74,29.13 60.14,29.13 Z"/><polygon points="85.12,12.42 106.88,12.36 106.07,15.93 102.06,15.93 96.53,33.19 86.62,33.19 92.90,15.95 84.24,15.97"/><path fill-rule="evenodd" d="M110.39,12.36 120.74,12.33 127.51,33.20 117.12,33.20 115.92,29.46 105.70,29.46 102.98,33.19 94.54,33.19 Z M113.08,18.18 115.92,25.76 108.41,25.76 Z"/><polygon points="131.70,12.30 142.31,12.28 134.11,27.77 146.89,27.76 145.56,33.21 128.41,33.20"/></g><polygon points="63.91,12.14 65.83,12.14 67.10,16.70 65.16,16.70" fill="#095b70"/>
 <text x="152" y="26.5" font-size="11" fill="#e3ecee" stroke="#e3ecee" stroke-width="0.35" textLength="115" lengthAdjust="spacingAndGlyphs">One-Stop Tools Station</text>
 <rect x="5" y="41" width="288" height="5" fill="#9fb2b9"/>
 <rect x="5" y="46" width="286" height="207" fill="url(#lteal)"/>
 <rect x="95" y="46" width="196.5" height="207" fill="#2f7f96"/>
 <g fill="url(#lcell)">
  <rect x="96" y="48" width="194" height="17.5"/>
  <rect x="96" y="67.5" width="194" height="38"/>
  <rect x="96" y="107.5" width="194" height="20"/>
  <rect x="96" y="129.5" width="194" height="18.5"/>
  <rect x="96" y="150" width="194" height="101"/>
 </g>
 <g fill="#5aa0b0">
  <rect x="5" y="66" width="91" height="1.4"/><rect x="5" y="106" width="91" height="1.4"/><rect x="5" y="128" width="91" height="1.4"/><rect x="5" y="148.5" width="91" height="1.4"/>
 </g>
 <g fill="#a6dae6" stroke="#a6dae6" stroke-width="0.3" font-size="9.5">
  <text x="19" y="59.5" textLength="67" lengthAdjust="spacingAndGlyphs">Part Number</text>
  <text x="22" y="90.5" textLength="58" lengthAdjust="spacingAndGlyphs">Description</text>
  <text x="41" y="122" textLength="21" lengthAdjust="spacingAndGlyphs">Unit</text>
  <text x="25" y="142.5" textLength="53" lengthAdjust="spacingAndGlyphs">Total QTY.</text>
  <text x="10" y="196.8" font-size="9" textLength="82" lengthAdjust="spacingAndGlyphs">Detail Of Art.No.</text>
  <text x="8" y="207" font-size="9" textLength="86.5" lengthAdjust="spacingAndGlyphs">For This Contract</text>
 </g>
 <g fill="#161616" font-size="14" stroke="#161616" stroke-width="0.75">
  <text x="108" y="65" textLength="112" lengthAdjust="spacingAndGlyphs">AA021R00247</text>
  <text x="106.5" y="93.5" textLength="46.5" lengthAdjust="spacingAndGlyphs">Rotor</text>
  <text x="107.5" y="123" textLength="78" lengthAdjust="spacingAndGlyphs">1pcs/1set</text>
  <text x="108" y="146.5">1</text>
  <text x="108" y="171" font-size="13" textLength="152.5" lengthAdjust="spacingAndGlyphs">TH110286-SP-72-T</text>
 </g>
</svg>
</div>
</body></html>
